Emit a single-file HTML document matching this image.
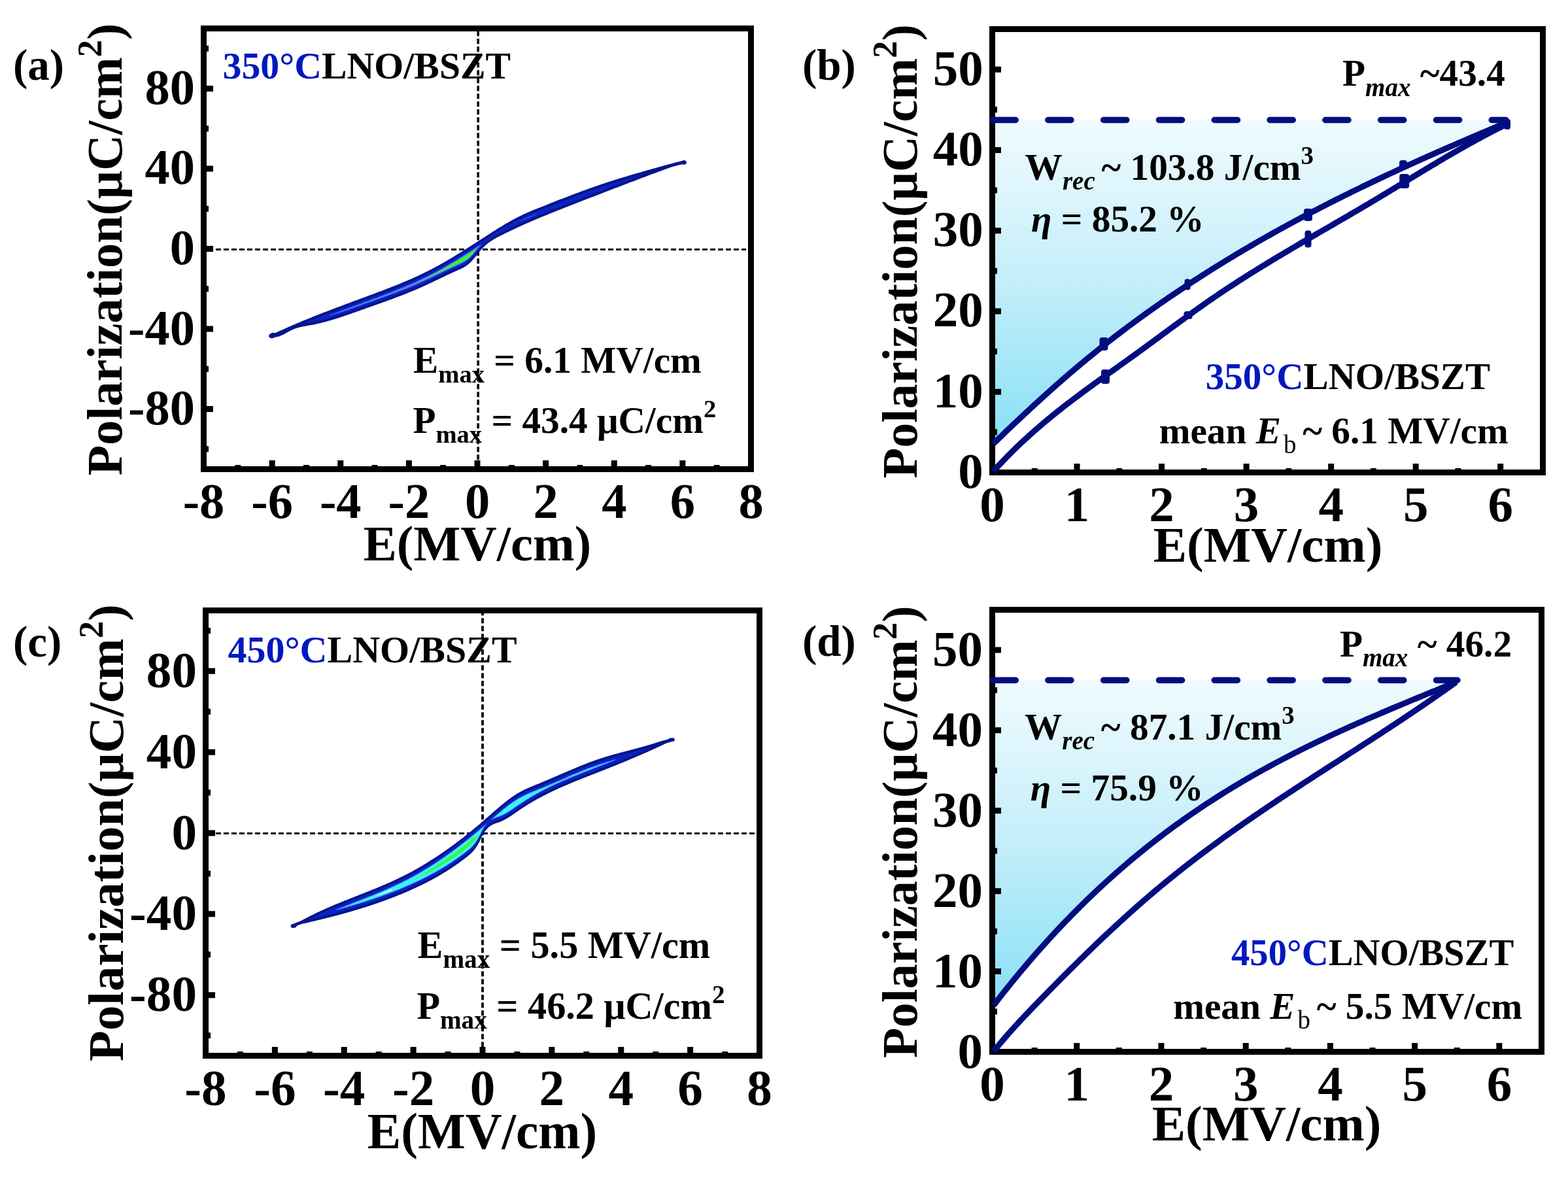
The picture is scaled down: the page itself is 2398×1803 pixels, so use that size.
<!DOCTYPE html><html><head><meta charset="utf-8"><title>P-E loops</title><style>html,body{margin:0;padding:0;background:#fff;overflow:hidden}svg{display:block}</style></head><body><svg xmlns="http://www.w3.org/2000/svg" width="2398" height="1803" viewBox="0 0 2398 1803" font-family="'Liberation Serif','Times New Roman',serif" font-weight="bold">
<defs><linearGradient id="gb" x1="0" y1="0" x2="0" y2="1"><stop offset="0" stop-color="#f0fbfe"/><stop offset="0.5" stop-color="#c4eefa"/><stop offset="1" stop-color="#88e0f6"/></linearGradient><linearGradient id="gd" x1="0" y1="0" x2="0" y2="1"><stop offset="0" stop-color="#f0fbfe"/><stop offset="0.5" stop-color="#c4eefa"/><stop offset="1" stop-color="#88e0f6"/></linearGradient></defs>
<rect width="100%" height="100%" fill="#fff"/>
<rect x="311.5" y="43.5" width="837" height="674" fill="none" stroke="#000" stroke-width="9"/>
<path d="M330 381.5H1141" stroke="#000" stroke-width="3" stroke-dasharray="8 4"/>
<path d="M731.2 47.2V713" stroke="#000" stroke-width="3.6" stroke-dasharray="8 4"/>
<path d="M412 510.9 L413.27 510.92 L414.55 510.88 L415.82 510.78 L417.09 510.62 L418.37 510.4 L419.64 509.87 L420.91 509.28 L422.19 508.69 L423.46 508.09 L424.74 507.51 L426.01 506.92 L427.28 506.34 L428.56 505.76 L429.83 505.18 L431.1 504.6 L432.38 504.02 L433.65 503.45 L434.92 502.88 L436.2 502.31 L437.47 501.75 L438.74 501.18 L440.02 500.62 L441.29 500.06 L442.57 499.51 L443.84 498.95 L445.11 498.4 L446.39 497.84 L447.66 497.29 L448.93 496.75 L450.21 496.2 L451.48 495.66 L452.75 495.12 L454.03 494.57 L455.3 494.04 L456.57 493.5 L457.85 492.96 L459.12 492.43 L460.39 491.9 L461.67 491.37 L462.94 490.84 L464.22 490.31 L465.49 489.79 L466.76 489.27 L468.04 488.74 L469.31 488.22 L470.58 487.71 L471.86 487.19 L473.13 486.67 L474.4 486.16 L475.68 485.64 L476.95 485.13 L478.22 484.62 L479.5 484.11 L480.77 483.61 L482.05 483.1 L483.32 482.6 L484.59 482.09 L485.87 481.59 L487.14 481.09 L488.41 480.59 L489.69 480.09 L490.96 479.59 L492.23 479.09 L493.51 478.6 L494.78 478.1 L496.05 477.61 L497.33 477.12 L498.6 476.63 L499.87 476.14 L501.15 475.65 L502.42 475.16 L503.7 474.67 L504.97 474.18 L506.24 473.7 L507.52 473.21 L508.79 472.73 L510.06 472.24 L511.34 471.76 L512.61 471.28 L513.88 470.8 L515.16 470.31 L516.43 469.83 L517.7 469.35 L518.98 468.88 L520.25 468.4 L521.53 467.92 L522.8 467.44 L524.07 466.96 L525.35 466.49 L526.62 466.01 L527.89 465.54 L529.17 465.06 L530.44 464.59 L531.71 464.11 L532.99 463.64 L534.26 463.17 L535.53 462.69 L536.81 462.22 L538.08 461.75 L539.35 461.27 L540.63 460.8 L541.9 460.33 L543.18 459.86 L544.45 459.38 L545.72 458.91 L547 458.44 L548.27 457.97 L549.54 457.5 L550.82 457.03 L552.09 456.55 L553.36 456.08 L554.64 455.61 L555.91 455.14 L557.18 454.67 L558.46 454.19 L559.73 453.72 L561.01 453.25 L562.28 452.78 L563.55 452.3 L564.83 451.83 L566.1 451.36 L567.37 450.88 L568.65 450.41 L569.92 449.93 L571.19 449.46 L572.47 448.98 L573.74 448.51 L575.01 448.03 L576.29 447.55 L577.56 447.08 L578.83 446.6 L580.11 446.12 L581.38 445.64 L582.66 445.16 L583.93 444.67 L585.2 444.19 L586.48 443.71 L587.75 443.22 L589.02 442.73 L590.3 442.24 L591.57 441.75 L592.84 441.26 L594.12 440.77 L595.39 440.27 L596.66 439.78 L597.94 439.28 L599.21 438.78 L600.48 438.28 L601.76 437.77 L603.03 437.27 L604.31 436.76 L605.58 436.25 L606.85 435.74 L608.13 435.23 L609.4 434.71 L610.67 434.19 L611.95 433.67 L613.22 433.14 L614.49 432.62 L615.77 432.09 L617.04 431.56 L618.31 431.02 L619.59 430.48 L620.86 429.94 L622.14 429.4 L623.41 428.86 L624.68 428.31 L625.96 427.75 L627.23 427.2 L628.5 426.64 L629.78 426.08 L631.05 425.51 L632.32 424.94 L633.6 424.37 L634.87 423.79 L636.14 423.21 L637.42 422.63 L638.69 422.04 L639.96 421.45 L641.24 420.86 L642.51 420.26 L643.79 419.65 L645.06 419.05 L646.33 418.44 L647.61 417.82 L648.88 417.2 L650.15 416.58 L651.43 415.95 L652.7 415.31 L653.97 414.68 L655.25 414.03 L656.52 413.39 L657.79 412.74 L659.07 412.08 L660.34 411.42 L661.62 410.75 L662.89 410.08 L664.16 409.4 L665.44 408.72 L666.71 408.04 L667.98 407.35 L669.26 406.65 L670.53 405.95 L671.8 405.25 L673.08 404.54 L674.35 403.83 L675.62 403.11 L676.9 402.39 L678.17 401.67 L679.44 400.94 L680.72 400.21 L681.99 399.47 L683.27 398.73 L684.54 397.99 L685.81 397.24 L687.09 396.49 L688.36 395.73 L689.63 394.98 L690.91 394.22 L692.18 393.45 L693.45 392.68 L694.73 391.91 L696 391.14 L697.27 390.36 L698.55 389.59 L699.82 388.8 L701.1 388.02 L702.37 387.23 L703.64 386.44 L704.92 385.65 L706.19 384.86 L707.46 384.06 L708.74 383.26 L710.01 382.46 L711.28 381.66 L712.56 380.85 L713.83 380.05 L715.1 379.24 L716.38 378.43 L717.65 377.62 L718.92 376.8 L720.2 375.99 L721.47 375.17 L722.75 374.36 L724.02 373.54 L725.29 372.72 L726.57 371.89 L727.84 371.07 L729.11 370.25 L730.39 369.42 L731.66 368.6 L732.93 367.77 L734.21 366.95 L735.48 366.12 L736.75 365.29 L738.03 364.47 L739.3 363.64 L740.58 362.81 L741.85 361.99 L743.12 361.17 L744.4 360.34 L745.67 359.52 L746.94 358.7 L748.22 357.88 L749.49 357.06 L750.76 356.25 L752.04 355.43 L753.31 354.62 L754.58 353.81 L755.86 353.01 L757.13 352.21 L758.4 351.41 L759.68 350.61 L760.95 349.82 L762.23 349.03 L763.5 348.24 L764.77 347.46 L766.05 346.68 L767.32 345.91 L768.59 345.14 L769.87 344.38 L771.14 343.62 L772.41 342.86 L773.69 342.11 L774.96 341.37 L776.23 340.63 L777.51 339.9 L778.78 339.18 L780.06 338.46 L781.33 337.74 L782.6 337.04 L783.88 336.34 L785.15 335.64 L786.42 334.96 L787.7 334.28 L788.97 333.61 L790.24 332.95 L791.52 332.29 L792.79 331.64 L794.06 331 L795.34 330.37 L796.61 329.75 L797.88 329.14 L799.16 328.53 L800.43 327.94 L801.71 327.35 L802.98 326.77 L804.25 326.19 L805.53 325.63 L806.8 325.07 L808.07 324.51 L809.35 323.96 L810.62 323.42 L811.89 322.88 L813.17 322.35 L814.44 321.82 L815.71 321.29 L816.99 320.77 L818.26 320.25 L819.54 319.73 L820.81 319.22 L822.08 318.71 L823.36 318.2 L824.63 317.69 L825.9 317.18 L827.18 316.68 L828.45 316.17 L829.72 315.66 L831 315.16 L832.27 314.65 L833.54 314.15 L834.82 313.64 L836.09 313.13 L837.36 312.63 L838.64 312.13 L839.91 311.62 L841.19 311.12 L842.46 310.61 L843.73 310.11 L845.01 309.61 L846.28 309.11 L847.55 308.61 L848.83 308.11 L850.1 307.61 L851.37 307.11 L852.65 306.61 L853.92 306.11 L855.19 305.61 L856.47 305.12 L857.74 304.62 L859.02 304.13 L860.29 303.63 L861.56 303.14 L862.84 302.65 L864.11 302.15 L865.38 301.66 L866.66 301.17 L867.93 300.68 L869.2 300.2 L870.48 299.71 L871.75 299.22 L873.02 298.74 L874.3 298.25 L875.57 297.77 L876.84 297.29 L878.12 296.81 L879.39 296.33 L880.67 295.85 L881.94 295.37 L883.21 294.9 L884.49 294.42 L885.76 293.95 L887.03 293.48 L888.31 293 L889.58 292.54 L890.85 292.07 L892.13 291.6 L893.4 291.14 L894.67 290.67 L895.95 290.21 L897.22 289.75 L898.49 289.29 L899.77 288.83 L901.04 288.37 L902.32 287.92 L903.59 287.47 L904.86 287.02 L906.14 286.57 L907.41 286.12 L908.68 285.67 L909.96 285.23 L911.23 284.78 L912.5 284.34 L913.78 283.9 L915.05 283.47 L916.32 283.03 L917.6 282.6 L918.87 282.17 L920.15 281.74 L921.42 281.31 L922.69 280.88 L923.97 280.46 L925.24 280.04 L926.51 279.62 L927.79 279.2 L929.06 278.78 L930.33 278.37 L931.61 277.95 L932.88 277.54 L934.15 277.13 L935.43 276.72 L936.7 276.32 L937.97 275.91 L939.25 275.51 L940.52 275.11 L941.8 274.71 L943.07 274.31 L944.34 273.91 L945.62 273.52 L946.89 273.12 L948.16 272.73 L949.44 272.34 L950.71 271.95 L951.98 271.56 L953.26 271.17 L954.53 270.78 L955.8 270.4 L957.08 270.01 L958.35 269.63 L959.63 269.25 L960.9 268.87 L962.17 268.49 L963.45 268.11 L964.72 267.74 L965.99 267.36 L967.27 266.98 L968.54 266.61 L969.81 266.24 L971.09 265.86 L972.36 265.49 L973.63 265.12 L974.91 264.75 L976.18 264.38 L977.45 264.02 L978.73 263.65 L980 263.28 L981.28 262.92 L982.55 262.55 L983.82 262.19 L985.1 261.82 L986.37 261.46 L987.64 261.1 L988.92 260.73 L990.19 260.37 L991.46 260.01 L992.74 259.65 L994.01 259.29 L995.28 258.93 L996.56 258.57 L997.83 258.21 L999.11 257.85 L1000.38 257.49 L1001.65 257.14 L1002.93 256.78 L1004.2 256.42 L1005.47 256.06 L1006.75 255.7 L1008.02 255.35 L1009.29 254.99 L1010.57 254.63 L1011.84 254.28 L1013.11 253.92 L1014.39 253.56 L1015.66 253.21 L1016.93 252.86 L1018.21 252.51 L1019.48 252.17 L1020.76 251.84 L1022.03 251.51 L1023.3 251.19 L1024.58 250.88 L1025.85 250.57 L1027.12 250.21 L1028.4 249.84 L1029.67 249.48 L1030.94 249.12 L1032.22 248.77 L1033.49 248.43 L1034.76 248.1 L1036.04 247.78 L1037.31 247.47 L1038.59 247.17 L1039.86 246.88 L1041.13 246.6 L1042.41 246.33 L1043.68 246.08 L1044.95 245.84 L1046.23 245.61 L1047.5 245.4 L1047.5 250.6 L1046.23 250.81 L1044.95 251.04 L1043.68 251.28 L1042.41 251.53 L1041.13 251.8 L1039.86 252.08 L1038.59 252.37 L1037.31 252.67 L1036.04 252.98 L1034.76 253.3 L1033.49 253.63 L1032.22 253.97 L1030.94 254.32 L1029.67 254.68 L1028.4 255.04 L1027.12 255.41 L1025.85 255.8 L1024.58 256.26 L1023.3 256.73 L1022.03 257.19 L1020.76 257.66 L1019.48 258.12 L1018.21 258.59 L1016.93 259.06 L1015.66 259.52 L1014.39 259.99 L1013.11 260.46 L1011.84 260.93 L1010.57 261.4 L1009.29 261.87 L1008.02 262.34 L1006.75 262.81 L1005.47 263.28 L1004.2 263.76 L1002.93 264.23 L1001.65 264.7 L1000.38 265.17 L999.11 265.65 L997.83 266.12 L996.56 266.6 L995.28 267.07 L994.01 267.55 L992.74 268.03 L991.46 268.5 L990.19 268.98 L988.92 269.46 L987.64 269.93 L986.37 270.41 L985.1 270.89 L983.82 271.37 L982.55 271.85 L981.28 272.33 L980 272.81 L978.73 273.29 L977.45 273.77 L976.18 274.25 L974.91 274.73 L973.63 275.22 L972.36 275.7 L971.09 276.18 L969.81 276.66 L968.54 277.15 L967.27 277.63 L965.99 278.12 L964.72 278.6 L963.45 279.08 L962.17 279.57 L960.9 280.05 L959.63 280.54 L958.35 281.03 L957.08 281.51 L955.8 282 L954.53 282.48 L953.26 282.97 L951.98 283.46 L950.71 283.95 L949.44 284.43 L948.16 284.92 L946.89 285.41 L945.62 285.9 L944.34 286.39 L943.07 286.88 L941.8 287.37 L940.52 287.85 L939.25 288.34 L937.97 288.83 L936.7 289.32 L935.43 289.81 L934.15 290.3 L932.88 290.79 L931.61 291.29 L930.33 291.78 L929.06 292.27 L927.79 292.76 L926.51 293.25 L925.24 293.74 L923.97 294.23 L922.69 294.72 L921.42 295.22 L920.15 295.71 L918.87 296.2 L917.6 296.69 L916.32 297.19 L915.05 297.68 L913.78 298.17 L912.5 298.66 L911.23 299.16 L909.96 299.65 L908.68 300.14 L907.41 300.64 L906.14 301.13 L904.86 301.62 L903.59 302.12 L902.32 302.61 L901.04 303.1 L899.77 303.6 L898.49 304.09 L897.22 304.58 L895.95 305.08 L894.67 305.57 L893.4 306.06 L892.13 306.56 L890.85 307.05 L889.58 307.54 L888.31 308.04 L887.03 308.53 L885.76 309.03 L884.49 309.52 L883.21 310.01 L881.94 310.51 L880.67 311 L879.39 311.5 L878.12 311.99 L876.84 312.49 L875.57 312.98 L874.3 313.48 L873.02 313.97 L871.75 314.47 L870.48 314.97 L869.2 315.46 L867.93 315.96 L866.66 316.46 L865.38 316.96 L864.11 317.46 L862.84 317.96 L861.56 318.46 L860.29 318.96 L859.02 319.46 L857.74 319.97 L856.47 320.47 L855.19 320.97 L853.92 321.48 L852.65 321.99 L851.37 322.49 L850.1 323 L848.83 323.51 L847.55 324.02 L846.28 324.53 L845.01 325.04 L843.73 325.56 L842.46 326.07 L841.19 326.58 L839.91 327.1 L838.64 327.62 L837.36 328.14 L836.09 328.66 L834.82 329.18 L833.54 329.7 L832.27 330.23 L831 330.75 L829.72 331.28 L828.45 331.81 L827.18 332.34 L825.9 332.87 L824.63 333.4 L823.36 333.94 L822.08 334.47 L820.81 335.01 L819.54 335.55 L818.26 336.09 L816.99 336.64 L815.71 337.18 L814.44 337.73 L813.17 338.28 L811.89 338.83 L810.62 339.38 L809.35 339.93 L808.07 340.49 L806.8 341.05 L805.53 341.61 L804.25 342.17 L802.98 342.74 L801.71 343.3 L800.43 343.87 L799.16 344.44 L797.88 345.02 L796.61 345.59 L795.34 346.17 L794.06 346.75 L792.79 347.33 L791.52 347.92 L790.24 348.5 L788.97 349.09 L787.7 349.68 L786.42 350.28 L785.15 350.88 L783.88 351.48 L782.6 352.08 L781.33 352.68 L780.06 353.29 L778.78 353.9 L777.51 354.52 L776.23 355.13 L774.96 355.75 L773.69 356.37 L772.41 357 L771.14 357.63 L769.87 358.26 L768.59 358.89 L767.32 359.53 L766.05 360.17 L764.77 360.81 L763.5 361.46 L762.23 362.12 L760.95 362.79 L759.68 363.47 L758.4 364.17 L757.13 364.88 L755.86 365.62 L754.58 366.38 L753.31 367.16 L752.04 367.98 L750.76 368.82 L749.49 369.7 L748.22 370.62 L746.94 371.57 L745.67 372.56 L744.4 373.6 L743.12 374.68 L741.85 375.81 L740.58 376.99 L739.3 378.23 L738.03 379.52 L736.75 380.87 L735.48 382.28 L734.21 383.75 L732.93 385.28 L731.66 386.84 L730.39 388.43 L729.11 390.03 L727.84 391.63 L726.57 393.22 L725.29 394.79 L724.02 396.32 L722.75 397.8 L721.47 399.22 L720.2 400.56 L718.92 401.81 L717.65 402.97 L716.38 404.06 L715.1 405.06 L713.83 405.99 L712.56 406.86 L711.28 407.67 L710.01 408.43 L708.74 409.14 L707.46 409.81 L706.19 410.45 L704.92 411.06 L703.64 411.65 L702.37 412.23 L701.1 412.79 L699.82 413.35 L698.55 413.92 L697.27 414.49 L696 415.06 L694.73 415.64 L693.45 416.22 L692.18 416.81 L690.91 417.39 L689.63 417.98 L688.36 418.57 L687.09 419.17 L685.81 419.77 L684.54 420.36 L683.27 420.97 L681.99 421.57 L680.72 422.17 L679.44 422.78 L678.17 423.39 L676.9 423.99 L675.62 424.6 L674.35 425.21 L673.08 425.82 L671.8 426.43 L670.53 427.04 L669.26 427.65 L667.98 428.26 L666.71 428.87 L665.44 429.47 L664.16 430.08 L662.89 430.69 L661.62 431.29 L660.34 431.89 L659.07 432.5 L657.79 433.1 L656.52 433.69 L655.25 434.29 L653.97 434.88 L652.7 435.47 L651.43 436.06 L650.15 436.64 L648.88 437.22 L647.61 437.8 L646.33 438.38 L645.06 438.95 L643.79 439.51 L642.51 440.08 L641.24 440.64 L639.96 441.19 L638.69 441.74 L637.42 442.29 L636.14 442.84 L634.87 443.38 L633.6 443.92 L632.32 444.45 L631.05 444.99 L629.78 445.51 L628.5 446.04 L627.23 446.56 L625.96 447.08 L624.68 447.6 L623.41 448.12 L622.14 448.63 L620.86 449.14 L619.59 449.64 L618.31 450.15 L617.04 450.65 L615.77 451.15 L614.49 451.64 L613.22 452.14 L611.95 452.63 L610.67 453.12 L609.4 453.61 L608.13 454.09 L606.85 454.58 L605.58 455.06 L604.31 455.54 L603.03 456.01 L601.76 456.49 L600.48 456.96 L599.21 457.44 L597.94 457.91 L596.66 458.38 L595.39 458.84 L594.12 459.31 L592.84 459.78 L591.57 460.24 L590.3 460.7 L589.02 461.16 L587.75 461.62 L586.48 462.08 L585.2 462.54 L583.93 463 L582.66 463.45 L581.38 463.91 L580.11 464.36 L578.83 464.81 L577.56 465.27 L576.29 465.72 L575.01 466.17 L573.74 466.62 L572.47 467.07 L571.19 467.52 L569.92 467.98 L568.65 468.43 L567.37 468.87 L566.1 469.32 L564.83 469.77 L563.55 470.22 L562.28 470.67 L561.01 471.12 L559.73 471.57 L558.46 472.02 L557.18 472.47 L555.91 472.92 L554.64 473.38 L553.36 473.83 L552.09 474.28 L550.82 474.73 L549.54 475.19 L548.27 475.64 L547 476.09 L545.72 476.54 L544.45 477 L543.18 477.45 L541.9 477.9 L540.63 478.35 L539.35 478.8 L538.08 479.25 L536.81 479.69 L535.53 480.14 L534.26 480.59 L532.99 481.03 L531.71 481.47 L530.44 481.91 L529.17 482.35 L527.89 482.78 L526.62 483.22 L525.35 483.65 L524.07 484.07 L522.8 484.5 L521.53 484.92 L520.25 485.34 L518.98 485.76 L517.7 486.17 L516.43 486.58 L515.16 486.99 L513.88 487.39 L512.61 487.79 L511.34 488.19 L510.06 488.58 L508.79 488.97 L507.52 489.35 L506.24 489.73 L504.97 490.1 L503.7 490.47 L502.42 490.84 L501.15 491.2 L499.87 491.55 L498.6 491.9 L497.33 492.25 L496.05 492.58 L494.78 492.92 L493.51 493.24 L492.23 493.57 L490.96 493.88 L489.69 494.19 L488.41 494.49 L487.14 494.79 L485.87 495.08 L484.59 495.36 L483.32 495.64 L482.05 495.9 L480.77 496.17 L479.5 496.42 L478.22 496.67 L476.95 496.91 L475.68 497.14 L474.4 497.37 L473.13 497.59 L471.86 497.81 L470.58 498.03 L469.31 498.25 L468.04 498.47 L466.76 498.7 L465.49 498.94 L464.22 499.19 L462.94 499.44 L461.67 499.71 L460.39 500 L459.12 500.3 L457.85 500.62 L456.57 500.96 L455.3 501.32 L454.03 501.71 L452.75 502.12 L451.48 502.56 L450.21 503.03 L448.93 503.53 L447.66 504.07 L446.39 504.64 L445.11 505.25 L443.84 505.89 L442.57 506.55 L441.29 507.24 L440.02 507.93 L438.74 508.64 L437.47 509.34 L436.2 510.04 L434.92 510.73 L433.65 511.4 L432.38 512.04 L431.1 512.65 L429.83 513.22 L428.56 513.74 L427.28 514.21 L426.01 514.63 L424.74 514.98 L423.46 515.26 L422.19 515.46 L420.91 515.58 L419.64 515.6 L418.37 515.6 L417.09 515.82 L415.82 515.98 L414.55 516.08 L413.27 516.12 L412 516.1Z" fill="#06168a"/>
<path d="M466.76 493.57 L468.04 493.04 L469.31 492.52 L470.58 492.01 L471.86 491.49 L473.13 490.97 L474.4 490.46 L475.68 489.94 L476.95 489.43 L478.22 488.92 L479.5 488.41 L480.77 487.91 L482.05 487.4 L483.32 486.9 L484.59 486.39 L485.87 485.89 L487.14 485.39 L488.41 484.89 L489.69 484.39 L490.96 483.89 L492.23 483.39 L493.51 482.9 L494.78 482.4 L496.05 481.91 L497.33 481.42 L498.6 480.93 L499.87 480.44 L501.15 479.95 L502.42 479.46 L503.7 478.97 L504.97 478.48 L506.24 478 L507.52 477.51 L508.79 477.03 L510.06 476.54 L511.34 476.06 L512.61 475.58 L513.88 475.1 L515.16 474.61 L516.43 474.13 L517.7 473.65 L518.98 473.18 L520.25 472.7 L521.53 472.22 L522.8 471.74 L524.07 471.26 L525.35 470.79 L526.62 470.31 L527.89 469.84 L529.17 469.36 L530.44 468.89 L531.71 468.41 L532.99 467.94 L534.26 467.47 L535.53 466.99 L536.81 466.52 L538.08 466.05 L539.35 465.57 L540.63 465.1 L541.9 464.63 L543.18 464.16 L544.45 463.68 L545.72 463.21 L547 462.74 L548.27 462.27 L549.54 461.8 L550.82 461.33 L552.09 460.85 L553.36 460.38 L554.64 459.91 L555.91 459.44 L557.18 458.97 L558.46 458.49 L559.73 458.02 L561.01 457.55 L562.28 457.08 L563.55 456.6 L564.83 456.13 L566.1 455.66 L567.37 455.18 L568.65 454.71 L569.92 454.23 L571.19 453.76 L572.47 453.28 L573.74 452.81 L575.01 452.33 L576.29 451.85 L577.56 451.38 L578.83 450.9 L580.11 450.42 L581.38 449.94 L582.66 449.46 L583.93 448.97 L585.2 448.49 L586.48 448.01 L587.75 447.52 L589.02 447.03 L590.3 446.54 L591.57 446.05 L592.84 445.56 L594.12 445.07 L595.39 444.57 L596.66 444.08 L597.94 443.58 L599.21 443.08 L600.48 442.58 L601.76 442.07 L603.03 441.57 L604.31 441.06 L605.58 440.55 L606.85 440.04 L608.13 439.53 L609.4 439.01 L610.67 438.49 L611.95 437.97 L613.22 437.44 L614.49 436.92 L615.77 436.39 L617.04 435.86 L618.31 435.32 L619.59 434.78 L620.86 434.24 L622.14 433.7 L623.41 433.16 L624.68 432.61 L625.96 432.05 L627.23 431.5 L628.5 430.94 L629.78 430.38 L631.05 429.81 L632.32 429.24 L633.6 428.67 L634.87 428.09 L636.14 427.51 L637.42 426.93 L638.69 426.34 L639.96 425.75 L641.24 425.16 L642.51 424.56 L643.79 423.95 L645.06 423.35 L646.33 422.74 L647.61 422.12 L648.88 421.5 L650.15 420.88 L651.43 420.25 L652.7 419.61 L653.97 418.98 L655.25 418.33 L656.52 417.69 L657.79 417.04 L659.07 416.38 L660.34 415.72 L661.62 415.05 L662.89 414.38 L664.16 413.7 L665.44 413.02 L666.71 412.34 L667.98 411.65 L669.26 410.95 L670.53 410.25 L671.8 409.55 L673.08 408.84 L674.35 408.13 L675.62 407.41 L676.9 406.69 L678.17 405.97 L679.44 405.24 L680.72 404.51 L681.99 403.77 L683.27 403.03 L684.54 402.29 L685.81 401.54 L687.09 400.79 L688.36 400.03 L689.63 399.28 L690.91 398.52 L692.18 397.75 L693.45 396.98 L694.73 396.21 L696 395.44 L697.27 394.66 L698.55 393.89 L699.82 393.1 L701.1 392.32 L702.37 391.53 L703.64 390.74 L704.92 389.95 L706.19 389.16 L707.46 388.36 L708.74 387.56 L710.01 386.76 L711.28 385.96 L712.56 385.15 L713.83 384.35 L715.1 383.54 L716.38 382.73 L717.65 381.92 L718.92 381.1 L720.2 380.29 L721.47 379.47 L722.75 378.66 L724.02 377.84 L725.29 377.02 L726.57 376.19 L727.84 375.37 L729.11 374.55 L730.39 373.72 L731.66 372.9 L732.93 372.07 L734.21 371.25 L735.48 370.42 L736.75 369.59 L738.03 368.77 L739.3 367.94 L740.58 367.11 L741.85 366.29 L743.12 365.47 L744.4 364.64 L745.67 363.82 L746.94 363 L748.22 362.18 L749.49 361.36 L750.76 360.55 L752.04 359.73 L753.31 358.92 L754.58 358.11 L755.86 357.31 L757.13 356.51 L758.4 355.71 L759.68 354.91 L760.95 354.12 L762.23 353.33 L763.5 352.54 L764.77 351.76 L766.05 350.98 L767.32 350.21 L768.59 349.44 L769.87 348.68 L771.14 347.92 L772.41 347.16 L773.69 346.41 L774.96 345.67 L776.23 344.93 L777.51 344.2 L778.78 343.48 L780.06 342.76 L781.33 342.04 L782.6 341.34 L783.88 340.64 L785.15 339.94 L786.42 339.26 L787.7 338.58 L788.97 337.91 L790.24 337.25 L791.52 336.59 L792.79 335.94 L794.06 335.3 L795.34 334.67 L796.61 334.05 L797.88 333.44 L799.16 332.83 L800.43 332.24 L801.71 331.65 L802.98 331.07 L804.25 330.49 L805.53 329.93 L806.8 329.37 L808.07 328.81 L809.35 328.26 L810.62 327.72 L811.89 327.18 L813.17 326.65 L814.44 326.12 L815.71 325.59 L816.99 325.07 L818.26 324.55 L819.54 324.03 L820.81 323.52 L822.08 323.01 L823.36 322.5 L824.63 321.99 L825.9 321.48 L827.18 320.98 L828.45 320.47 L829.72 319.96 L831 319.46 L832.27 318.95 L833.54 318.45 L834.82 317.94 L836.09 317.43 L837.36 316.93 L838.64 316.43 L839.91 315.92 L841.19 315.42 L842.46 314.91 L843.73 314.41 L845.01 313.91 L846.28 313.41 L847.55 312.91 L848.83 312.41 L850.1 311.91 L851.37 311.41 L852.65 310.91 L853.92 310.41 L855.19 309.91 L856.47 309.42 L857.74 308.92 L859.02 308.43 L860.29 307.93 L861.56 307.44 L862.84 306.95 L864.11 306.45 L865.38 305.96 L866.66 305.47 L867.93 304.98 L869.2 304.5 L870.48 304.01 L871.75 303.52 L873.02 303.04 L874.3 302.55 L875.57 302.07 L876.84 301.59 L878.12 301.11 L879.39 300.63 L880.67 300.15 L881.94 299.67 L883.21 299.2 L884.49 298.72 L885.76 298.25 L887.03 297.78 L888.31 297.3 L889.58 296.84 L890.85 296.37 L892.13 295.9 L893.4 295.44 L894.67 294.97 L895.95 294.51 L897.22 294.05 L898.49 293.59 L899.77 293.13 L901.04 292.67 L902.32 292.22 L903.59 291.77 L904.86 291.32 L906.14 290.87 L907.41 290.42 L908.68 289.97 L909.96 289.53 L911.23 289.08 L912.5 288.64 L913.78 288.2 L915.05 287.77 L916.32 287.33 L917.6 286.9 L918.87 286.47 L920.15 286.04 L921.42 285.61 L922.69 285.18 L923.97 284.76 L925.24 284.34 L926.51 283.92 L927.79 283.5 L929.06 283.08 L930.33 282.67 L931.61 282.25 L932.88 281.84 L934.15 281.43 L935.43 281.02 L936.7 280.62 L937.97 280.21 L939.25 279.81 L940.52 279.41 L941.8 279.01 L943.07 278.61 L944.34 278.21 L945.62 277.82 L946.89 277.42 L948.16 277.03 L949.44 276.64 L950.71 276.25 L951.98 275.86 L953.26 275.47 L954.53 275.08 L955.8 274.7 L957.08 274.31 L958.35 273.93 L959.63 273.55 L960.9 273.17 L962.17 272.79 L963.45 272.41 L964.72 272.04 L965.99 271.66 L967.27 271.28 L968.54 270.91 L969.81 270.54 L971.09 270.16 L972.36 269.79 L973.63 269.42 L974.91 269.05 L976.18 268.68 L977.45 268.32 L978.73 267.95 L980 267.58 L981.28 267.22 L982.55 266.85 L982.55 267.55 L981.28 268.03 L980 268.51 L978.73 268.99 L977.45 269.47 L976.18 269.95 L974.91 270.43 L973.63 270.92 L972.36 271.4 L971.09 271.88 L969.81 272.36 L968.54 272.85 L967.27 273.33 L965.99 273.82 L964.72 274.3 L963.45 274.78 L962.17 275.27 L960.9 275.75 L959.63 276.24 L958.35 276.73 L957.08 277.21 L955.8 277.7 L954.53 278.18 L953.26 278.67 L951.98 279.16 L950.71 279.65 L949.44 280.13 L948.16 280.62 L946.89 281.11 L945.62 281.6 L944.34 282.09 L943.07 282.58 L941.8 283.07 L940.52 283.55 L939.25 284.04 L937.97 284.53 L936.7 285.02 L935.43 285.51 L934.15 286 L932.88 286.49 L931.61 286.99 L930.33 287.48 L929.06 287.97 L927.79 288.46 L926.51 288.95 L925.24 289.44 L923.97 289.93 L922.69 290.42 L921.42 290.92 L920.15 291.41 L918.87 291.9 L917.6 292.39 L916.32 292.89 L915.05 293.38 L913.78 293.87 L912.5 294.36 L911.23 294.86 L909.96 295.35 L908.68 295.84 L907.41 296.34 L906.14 296.83 L904.86 297.32 L903.59 297.82 L902.32 298.31 L901.04 298.8 L899.77 299.3 L898.49 299.79 L897.22 300.28 L895.95 300.78 L894.67 301.27 L893.4 301.76 L892.13 302.26 L890.85 302.75 L889.58 303.24 L888.31 303.74 L887.03 304.23 L885.76 304.73 L884.49 305.22 L883.21 305.71 L881.94 306.21 L880.67 306.7 L879.39 307.2 L878.12 307.69 L876.84 308.19 L875.57 308.68 L874.3 309.18 L873.02 309.67 L871.75 310.17 L870.48 310.67 L869.2 311.16 L867.93 311.66 L866.66 312.16 L865.38 312.66 L864.11 313.16 L862.84 313.66 L861.56 314.16 L860.29 314.66 L859.02 315.16 L857.74 315.67 L856.47 316.17 L855.19 316.67 L853.92 317.18 L852.65 317.69 L851.37 318.19 L850.1 318.7 L848.83 319.21 L847.55 319.72 L846.28 320.23 L845.01 320.74 L843.73 321.26 L842.46 321.77 L841.19 322.28 L839.91 322.8 L838.64 323.32 L837.36 323.84 L836.09 324.36 L834.82 324.88 L833.54 325.4 L832.27 325.93 L831 326.45 L829.72 326.98 L828.45 327.51 L827.18 328.04 L825.9 328.57 L824.63 329.1 L823.36 329.64 L822.08 330.17 L820.81 330.71 L819.54 331.25 L818.26 331.79 L816.99 332.34 L815.71 332.88 L814.44 333.43 L813.17 333.98 L811.89 334.53 L810.62 335.08 L809.35 335.63 L808.07 336.19 L806.8 336.75 L805.53 337.31 L804.25 337.87 L802.98 338.44 L801.71 339 L800.43 339.57 L799.16 340.14 L797.88 340.72 L796.61 341.29 L795.34 341.87 L794.06 342.45 L792.79 343.03 L791.52 343.62 L790.24 344.2 L788.97 344.79 L787.7 345.38 L786.42 345.98 L785.15 346.58 L783.88 347.18 L782.6 347.78 L781.33 348.38 L780.06 348.99 L778.78 349.6 L777.51 350.22 L776.23 350.83 L774.96 351.45 L773.69 352.07 L772.41 352.7 L771.14 353.33 L769.87 353.96 L768.59 354.59 L767.32 355.23 L766.05 355.87 L764.77 356.51 L763.5 357.16 L762.23 357.82 L760.95 358.49 L759.68 359.17 L758.4 359.87 L757.13 360.58 L755.86 361.32 L754.58 362.08 L753.31 362.86 L752.04 363.68 L750.76 364.52 L749.49 365.4 L748.22 366.32 L746.94 367.27 L745.67 368.26 L744.4 369.3 L743.12 370.38 L741.85 371.51 L740.58 372.69 L739.3 373.93 L738.03 375.22 L736.75 376.57 L735.48 377.98 L734.21 379.45 L732.93 380.98 L731.66 382.54 L730.39 384.13 L729.11 385.73 L727.84 387.33 L726.57 388.92 L725.29 390.49 L724.02 392.02 L722.75 393.5 L721.47 394.92 L720.2 396.26 L718.92 397.51 L717.65 398.67 L716.38 399.76 L715.1 400.76 L713.83 401.69 L712.56 402.56 L711.28 403.37 L710.01 404.13 L708.74 404.84 L707.46 405.51 L706.19 406.15 L704.92 406.76 L703.64 407.35 L702.37 407.93 L701.1 408.49 L699.82 409.05 L698.55 409.62 L697.27 410.19 L696 410.76 L694.73 411.34 L693.45 411.92 L692.18 412.51 L690.91 413.09 L689.63 413.68 L688.36 414.27 L687.09 414.87 L685.81 415.47 L684.54 416.06 L683.27 416.67 L681.99 417.27 L680.72 417.87 L679.44 418.48 L678.17 419.09 L676.9 419.69 L675.62 420.3 L674.35 420.91 L673.08 421.52 L671.8 422.13 L670.53 422.74 L669.26 423.35 L667.98 423.96 L666.71 424.57 L665.44 425.17 L664.16 425.78 L662.89 426.39 L661.62 426.99 L660.34 427.59 L659.07 428.2 L657.79 428.8 L656.52 429.39 L655.25 429.99 L653.97 430.58 L652.7 431.17 L651.43 431.76 L650.15 432.34 L648.88 432.92 L647.61 433.5 L646.33 434.08 L645.06 434.65 L643.79 435.21 L642.51 435.78 L641.24 436.34 L639.96 436.89 L638.69 437.44 L637.42 437.99 L636.14 438.54 L634.87 439.08 L633.6 439.62 L632.32 440.15 L631.05 440.69 L629.78 441.21 L628.5 441.74 L627.23 442.26 L625.96 442.78 L624.68 443.3 L623.41 443.82 L622.14 444.33 L620.86 444.84 L619.59 445.34 L618.31 445.85 L617.04 446.35 L615.77 446.85 L614.49 447.34 L613.22 447.84 L611.95 448.33 L610.67 448.82 L609.4 449.31 L608.13 449.79 L606.85 450.28 L605.58 450.76 L604.31 451.24 L603.03 451.71 L601.76 452.19 L600.48 452.66 L599.21 453.14 L597.94 453.61 L596.66 454.08 L595.39 454.54 L594.12 455.01 L592.84 455.48 L591.57 455.94 L590.3 456.4 L589.02 456.86 L587.75 457.32 L586.48 457.78 L585.2 458.24 L583.93 458.7 L582.66 459.15 L581.38 459.61 L580.11 460.06 L578.83 460.51 L577.56 460.97 L576.29 461.42 L575.01 461.87 L573.74 462.32 L572.47 462.77 L571.19 463.22 L569.92 463.68 L568.65 464.13 L567.37 464.57 L566.1 465.02 L564.83 465.47 L563.55 465.92 L562.28 466.37 L561.01 466.82 L559.73 467.27 L558.46 467.72 L557.18 468.17 L555.91 468.62 L554.64 469.08 L553.36 469.53 L552.09 469.98 L550.82 470.43 L549.54 470.89 L548.27 471.34 L547 471.79 L545.72 472.24 L544.45 472.7 L543.18 473.15 L541.9 473.6 L540.63 474.05 L539.35 474.5 L538.08 474.95 L536.81 475.39 L535.53 475.84 L534.26 476.29 L532.99 476.73 L531.71 477.17 L530.44 477.61 L529.17 478.05 L527.89 478.48 L526.62 478.92 L525.35 479.35 L524.07 479.77 L522.8 480.2 L521.53 480.62 L520.25 481.04 L518.98 481.46 L517.7 481.87 L516.43 482.28 L515.16 482.69 L513.88 483.09 L512.61 483.49 L511.34 483.89 L510.06 484.28 L508.79 484.67 L507.52 485.05 L506.24 485.43 L504.97 485.8 L503.7 486.17 L502.42 486.54 L501.15 486.9 L499.87 487.25 L498.6 487.6 L497.33 487.95 L496.05 488.28 L494.78 488.62 L493.51 488.94 L492.23 489.27 L490.96 489.58 L489.69 489.89 L488.41 490.19 L487.14 490.49 L485.87 490.78 L484.59 491.06 L483.32 491.34 L482.05 491.6 L480.77 491.87 L479.5 492.12 L478.22 492.37 L476.95 492.61 L475.68 492.84 L474.4 493.07 L473.13 493.29 L471.86 493.51 L470.58 493.73 L469.31 493.95 L468.04 494.17 L466.76 494.4Z" fill="#0a22c6"/>
<path d="M503.7 482.27 L504.97 481.78 L506.24 481.3 L507.52 480.81 L508.79 480.33 L510.06 479.84 L511.34 479.36 L512.61 478.88 L513.88 478.4 L515.16 477.91 L516.43 477.43 L517.7 476.95 L518.98 476.48 L520.25 476 L521.53 475.52 L522.8 475.04 L524.07 474.56 L525.35 474.09 L526.62 473.61 L527.89 473.14 L529.17 472.66 L530.44 472.19 L531.71 471.71 L532.99 471.24 L534.26 470.77 L535.53 470.29 L536.81 469.82 L538.08 469.35 L539.35 468.87 L540.63 468.4 L541.9 467.93 L543.18 467.46 L544.45 466.98 L545.72 466.51 L547 466.04 L548.27 465.57 L549.54 465.1 L550.82 464.63 L552.09 464.15 L553.36 463.68 L554.64 463.21 L555.91 462.74 L557.18 462.27 L558.46 461.79 L559.73 461.32 L561.01 460.85 L562.28 460.38 L563.55 459.9 L564.83 459.43 L566.1 458.96 L567.37 458.48 L568.65 458.01 L569.92 457.53 L571.19 457.06 L572.47 456.58 L573.74 456.11 L575.01 455.63 L576.29 455.15 L577.56 454.68 L578.83 454.2 L580.11 453.72 L581.38 453.24 L582.66 452.76 L583.93 452.27 L585.2 451.79 L586.48 451.31 L587.75 450.82 L589.02 450.33 L590.3 449.84 L591.57 449.35 L592.84 448.86 L594.12 448.37 L595.39 447.87 L596.66 447.38 L597.94 446.88 L599.21 446.38 L600.48 445.88 L601.76 445.37 L603.03 444.87 L604.31 444.36 L605.58 443.85 L606.85 443.34 L608.13 442.83 L609.4 442.31 L610.67 441.79 L611.95 441.27 L613.22 440.74 L614.49 440.22 L615.77 439.69 L617.04 439.16 L618.31 438.62 L619.59 438.08 L620.86 437.54 L622.14 437 L623.41 436.46 L624.68 435.91 L625.96 435.35 L627.23 434.8 L628.5 434.24 L629.78 433.68 L631.05 433.11 L632.32 432.54 L633.6 431.97 L634.87 431.39 L636.14 430.81 L637.42 430.23 L638.69 429.64 L639.96 429.05 L641.24 428.46 L642.51 427.86 L643.79 427.25 L645.06 426.65 L646.33 426.04 L647.61 425.42 L648.88 424.8 L650.15 424.18 L651.43 423.55 L652.7 422.91 L653.97 422.28 L655.25 421.63 L656.52 420.99 L657.79 420.34 L659.07 419.68 L660.34 419.02 L661.62 418.35 L662.89 417.68 L664.16 417 L665.44 416.32 L666.71 415.64 L667.98 414.95 L669.26 414.25 L670.53 413.55 L671.8 412.85 L673.08 412.14 L674.35 411.43 L675.62 410.71 L676.9 409.99 L678.17 409.27 L679.44 408.54 L680.72 407.81 L681.99 407.07 L683.27 406.33 L684.54 405.59 L685.81 404.84 L687.09 404.09 L688.36 403.33 L689.63 402.58 L690.91 401.82 L692.18 401.05 L693.45 400.28 L694.73 399.51 L696 398.74 L697.27 397.96 L698.55 397.19 L699.82 396.4 L701.1 395.62 L702.37 394.83 L703.64 394.04 L704.92 393.25 L706.19 392.46 L707.46 391.66 L708.74 390.86 L710.01 390.06 L711.28 389.26 L712.56 388.45 L713.83 387.65 L715.1 386.84 L716.38 386.03 L717.65 385.22 L718.92 384.4 L720.2 383.59 L721.47 382.77 L722.75 381.96 L724.02 381.14 L725.29 380.32 L726.57 379.49 L727.84 378.67 L729.11 377.85 L730.39 377.02 L731.66 376.2 L732.93 375.37 L734.21 374.55 L735.48 373.72 L735.48 374.68 L734.21 376.15 L732.93 377.68 L731.66 379.24 L730.39 380.83 L729.11 382.43 L727.84 384.03 L726.57 385.62 L725.29 387.19 L724.02 388.72 L722.75 390.2 L721.47 391.62 L720.2 392.96 L718.92 394.21 L717.65 395.37 L716.38 396.46 L715.1 397.46 L713.83 398.39 L712.56 399.26 L711.28 400.07 L710.01 400.83 L708.74 401.54 L707.46 402.21 L706.19 402.85 L704.92 403.46 L703.64 404.05 L702.37 404.63 L701.1 405.19 L699.82 405.75 L698.55 406.32 L697.27 406.89 L696 407.46 L694.73 408.04 L693.45 408.62 L692.18 409.21 L690.91 409.79 L689.63 410.38 L688.36 410.97 L687.09 411.57 L685.81 412.17 L684.54 412.76 L683.27 413.37 L681.99 413.97 L680.72 414.57 L679.44 415.18 L678.17 415.79 L676.9 416.39 L675.62 417 L674.35 417.61 L673.08 418.22 L671.8 418.83 L670.53 419.44 L669.26 420.05 L667.98 420.66 L666.71 421.27 L665.44 421.87 L664.16 422.48 L662.89 423.09 L661.62 423.69 L660.34 424.29 L659.07 424.9 L657.79 425.5 L656.52 426.09 L655.25 426.69 L653.97 427.28 L652.7 427.87 L651.43 428.46 L650.15 429.04 L648.88 429.62 L647.61 430.2 L646.33 430.78 L645.06 431.35 L643.79 431.91 L642.51 432.48 L641.24 433.04 L639.96 433.59 L638.69 434.14 L637.42 434.69 L636.14 435.24 L634.87 435.78 L633.6 436.32 L632.32 436.85 L631.05 437.39 L629.78 437.91 L628.5 438.44 L627.23 438.96 L625.96 439.48 L624.68 440 L623.41 440.52 L622.14 441.03 L620.86 441.54 L619.59 442.04 L618.31 442.55 L617.04 443.05 L615.77 443.55 L614.49 444.04 L613.22 444.54 L611.95 445.03 L610.67 445.52 L609.4 446.01 L608.13 446.49 L606.85 446.98 L605.58 447.46 L604.31 447.94 L603.03 448.41 L601.76 448.89 L600.48 449.36 L599.21 449.84 L597.94 450.31 L596.66 450.78 L595.39 451.24 L594.12 451.71 L592.84 452.18 L591.57 452.64 L590.3 453.1 L589.02 453.56 L587.75 454.02 L586.48 454.48 L585.2 454.94 L583.93 455.4 L582.66 455.85 L581.38 456.31 L580.11 456.76 L578.83 457.21 L577.56 457.67 L576.29 458.12 L575.01 458.57 L573.74 459.02 L572.47 459.47 L571.19 459.92 L569.92 460.38 L568.65 460.83 L567.37 461.27 L566.1 461.72 L564.83 462.17 L563.55 462.62 L562.28 463.07 L561.01 463.52 L559.73 463.97 L558.46 464.42 L557.18 464.87 L555.91 465.32 L554.64 465.78 L553.36 466.23 L552.09 466.68 L550.82 467.13 L549.54 467.59 L548.27 468.04 L547 468.49 L545.72 468.94 L544.45 469.4 L543.18 469.85 L541.9 470.3 L540.63 470.75 L539.35 471.2 L538.08 471.65 L536.81 472.09 L535.53 472.54 L534.26 472.99 L532.99 473.43 L531.71 473.87 L530.44 474.31 L529.17 474.75 L527.89 475.18 L526.62 475.62 L525.35 476.05 L524.07 476.47 L522.8 476.9 L521.53 477.32 L520.25 477.74 L518.98 478.16 L517.7 478.57 L516.43 478.98 L515.16 479.39 L513.88 479.79 L512.61 480.19 L511.34 480.59 L510.06 480.98 L508.79 481.37 L507.52 481.75 L506.24 482.13 L504.97 482.5 L503.7 482.87Z" fill="#5b78f2"/>
<path d="M796.61 337.35 L797.88 336.74 L799.16 336.13 L800.43 335.54 L801.71 334.95 L802.98 334.37 L804.25 333.79 L805.53 333.23 L806.8 332.67 L808.07 332.11 L809.35 331.56 L810.62 331.02 L811.89 330.48 L813.17 329.95 L814.44 329.42 L815.71 328.89 L816.99 328.37 L818.26 327.85 L819.54 327.33 L819.54 327.95 L818.26 328.49 L816.99 329.04 L815.71 329.58 L814.44 330.13 L813.17 330.68 L811.89 331.23 L810.62 331.78 L809.35 332.33 L808.07 332.89 L806.8 333.45 L805.53 334.01 L804.25 334.57 L802.98 335.14 L801.71 335.7 L800.43 336.27 L799.16 336.84 L797.88 337.42 L796.61 337.99Z" fill="#5b78f2"/>
<path d="M642.51 429.86 L643.79 429.25 L645.06 428.65 L646.33 428.04 L647.61 427.42 L648.88 426.8 L650.15 426.18 L651.43 425.55 L652.7 424.91 L653.97 424.28 L655.25 423.63 L656.52 422.99 L657.79 422.34 L659.07 421.68 L660.34 421.02 L661.62 420.35 L662.89 419.68 L664.16 419 L665.44 418.32 L666.71 417.64 L667.98 416.95 L669.26 416.25 L670.53 415.55 L671.8 414.85 L673.08 414.14 L674.35 413.43 L675.62 412.71 L676.9 411.99 L678.17 411.27 L679.44 410.54 L680.72 409.81 L681.99 409.07 L683.27 408.33 L684.54 407.59 L685.81 406.84 L687.09 406.09 L688.36 405.33 L689.63 404.58 L690.91 403.82 L692.18 403.05 L693.45 402.28 L694.73 401.51 L696 400.74 L697.27 399.96 L698.55 399.19 L699.82 398.4 L701.1 397.62 L702.37 396.83 L703.64 396.04 L704.92 395.25 L706.19 394.46 L707.46 393.66 L708.74 392.86 L710.01 392.06 L711.28 391.26 L712.56 390.45 L713.83 389.65 L715.1 388.84 L716.38 388.03 L717.65 387.22 L718.92 386.4 L720.2 385.59 L721.47 384.77 L722.75 383.96 L724.02 383.14 L725.29 382.32 L726.57 381.49 L727.84 380.67 L727.84 382.03 L726.57 383.62 L725.29 385.19 L724.02 386.72 L722.75 388.2 L721.47 389.62 L720.2 390.96 L718.92 392.21 L717.65 393.37 L716.38 394.46 L715.1 395.46 L713.83 396.39 L712.56 397.26 L711.28 398.07 L710.01 398.83 L708.74 399.54 L707.46 400.21 L706.19 400.85 L704.92 401.46 L703.64 402.05 L702.37 402.63 L701.1 403.19 L699.82 403.75 L698.55 404.32 L697.27 404.89 L696 405.46 L694.73 406.04 L693.45 406.62 L692.18 407.21 L690.91 407.79 L689.63 408.38 L688.36 408.97 L687.09 409.57 L685.81 410.17 L684.54 410.76 L683.27 411.37 L681.99 411.97 L680.72 412.57 L679.44 413.18 L678.17 413.79 L676.9 414.39 L675.62 415 L674.35 415.61 L673.08 416.22 L671.8 416.83 L670.53 417.44 L669.26 418.05 L667.98 418.66 L666.71 419.27 L665.44 419.87 L664.16 420.48 L662.89 421.09 L661.62 421.69 L660.34 422.29 L659.07 422.9 L657.79 423.5 L656.52 424.09 L655.25 424.69 L653.97 425.28 L652.7 425.87 L651.43 426.46 L650.15 427.04 L648.88 427.62 L647.61 428.2 L646.33 428.78 L645.06 429.35 L643.79 429.91 L642.51 430.48Z" fill="#38f838"/>
<ellipse cx="417" cy="513" rx="6" ry="4" fill="#06168a" transform="rotate(-20 417 513)"/><ellipse cx="1046" cy="248.5" rx="3.8" ry="3.2" fill="#06168a"/>
<path d="M311.5 625.59H326M311.5 503.05H326M311.5 380.5H326M311.5 257.95H326M311.5 135.41H326M311.5 686.86H319M311.5 564.32H319M311.5 441.77H319M311.5 319.23H319M311.5 196.68H319M311.5 74.14H319" stroke="#000" stroke-width="9" fill="none"/>
<path d="M416.12 717.5V704M520.75 717.5V704M625.38 717.5V704M730 717.5V704M834.62 717.5V704M939.25 717.5V704M1043.88 717.5V704M363.81 717.5V711M468.44 717.5V711M573.06 717.5V711M677.69 717.5V711M782.31 717.5V711M886.94 717.5V711M991.56 717.5V711M1096.19 717.5V711" stroke="#000" stroke-width="9" fill="none"/>
<rect x="314.5" y="933.5" width="847" height="681" fill="none" stroke="#000" stroke-width="9"/>
<path d="M330 1274.5H1154" stroke="#000" stroke-width="3" stroke-dasharray="8 4"/>
<path d="M738 933.2V1610" stroke="#000" stroke-width="3.8" stroke-dasharray="8 4"/>
<path d="M446 1413.9 L447.17 1413.42 L448.34 1412.93 L449.51 1412.46 L450.69 1411.98 L451.86 1411.51 L453.03 1411.03 L454.2 1410.57 L455.37 1410.1 L456.54 1409.63 L457.71 1409.17 L458.88 1408.71 L460.06 1408.26 L461.23 1407.72 L462.4 1407.09 L463.57 1406.45 L464.74 1405.82 L465.91 1405.2 L467.08 1404.58 L468.26 1403.96 L469.43 1403.35 L470.6 1402.75 L471.77 1402.15 L472.94 1401.55 L474.11 1400.96 L475.28 1400.37 L476.45 1399.78 L477.63 1399.2 L478.8 1398.63 L479.97 1398.05 L481.14 1397.48 L482.31 1396.92 L483.48 1396.36 L484.65 1395.8 L485.83 1395.25 L487 1394.7 L488.17 1394.15 L489.34 1393.6 L490.51 1393.06 L491.68 1392.53 L492.85 1391.99 L494.03 1391.46 L495.2 1390.93 L496.37 1390.41 L497.54 1389.89 L498.71 1389.37 L499.88 1388.85 L501.05 1388.34 L502.22 1387.83 L503.4 1387.32 L504.57 1386.81 L505.74 1386.31 L506.91 1385.81 L508.08 1385.31 L509.25 1384.81 L510.42 1384.31 L511.6 1383.82 L512.77 1383.33 L513.94 1382.84 L515.11 1382.36 L516.28 1381.87 L517.45 1381.39 L518.62 1380.91 L519.79 1380.43 L520.97 1379.95 L522.14 1379.47 L523.31 1379 L524.48 1378.52 L525.65 1378.05 L526.82 1377.58 L527.99 1377.11 L529.17 1376.64 L530.34 1376.17 L531.51 1375.7 L532.68 1375.23 L533.85 1374.77 L535.02 1374.3 L536.19 1373.84 L537.36 1373.37 L538.54 1372.91 L539.71 1372.45 L540.88 1371.99 L542.05 1371.52 L543.22 1371.06 L544.39 1370.6 L545.56 1370.14 L546.74 1369.68 L547.91 1369.21 L549.08 1368.75 L550.25 1368.29 L551.42 1367.83 L552.59 1367.37 L553.76 1366.9 L554.93 1366.44 L556.11 1365.98 L557.28 1365.51 L558.45 1365.05 L559.62 1364.58 L560.79 1364.11 L561.96 1363.65 L563.13 1363.18 L564.31 1362.71 L565.48 1362.24 L566.65 1361.77 L567.82 1361.3 L568.99 1360.82 L570.16 1360.35 L571.33 1359.87 L572.51 1359.39 L573.68 1358.91 L574.85 1358.43 L576.02 1357.95 L577.19 1357.47 L578.36 1356.98 L579.53 1356.49 L580.7 1356 L581.88 1355.51 L583.05 1355.02 L584.22 1354.52 L585.39 1354.02 L586.56 1353.52 L587.73 1353.02 L588.9 1352.51 L590.08 1352 L591.25 1351.49 L592.42 1350.98 L593.59 1350.47 L594.76 1349.95 L595.93 1349.43 L597.1 1348.9 L598.27 1348.38 L599.45 1347.85 L600.62 1347.31 L601.79 1346.78 L602.96 1346.24 L604.13 1345.69 L605.3 1345.15 L606.47 1344.6 L607.65 1344.05 L608.82 1343.49 L609.99 1342.93 L611.16 1342.37 L612.33 1341.8 L613.5 1341.23 L614.67 1340.65 L615.84 1340.07 L617.02 1339.49 L618.19 1338.9 L619.36 1338.31 L620.53 1337.72 L621.7 1337.12 L622.87 1336.51 L624.04 1335.9 L625.22 1335.29 L626.39 1334.67 L627.56 1334.05 L628.73 1333.42 L629.9 1332.79 L631.07 1332.16 L632.24 1331.52 L633.41 1330.87 L634.59 1330.22 L635.76 1329.57 L636.93 1328.91 L638.1 1328.25 L639.27 1327.58 L640.44 1326.91 L641.61 1326.24 L642.79 1325.56 L643.96 1324.87 L645.13 1324.18 L646.3 1323.49 L647.47 1322.79 L648.64 1322.09 L649.81 1321.39 L650.98 1320.67 L652.16 1319.96 L653.33 1319.24 L654.5 1318.52 L655.67 1317.79 L656.84 1317.06 L658.01 1316.32 L659.18 1315.58 L660.36 1314.84 L661.53 1314.09 L662.7 1313.34 L663.87 1312.58 L665.04 1311.82 L666.21 1311.05 L667.38 1310.28 L668.56 1309.51 L669.73 1308.73 L670.9 1307.95 L672.07 1307.16 L673.24 1306.37 L674.41 1305.57 L675.58 1304.77 L676.75 1303.97 L677.93 1303.16 L679.1 1302.35 L680.27 1301.53 L681.44 1300.71 L682.61 1299.89 L683.78 1299.06 L684.95 1298.23 L686.13 1297.39 L687.3 1296.55 L688.47 1295.71 L689.64 1294.86 L690.81 1294.01 L691.98 1293.15 L693.15 1292.29 L694.32 1291.42 L695.5 1290.55 L696.67 1289.68 L697.84 1288.8 L699.01 1287.92 L700.18 1287.04 L701.35 1286.15 L702.52 1285.26 L703.7 1284.36 L704.87 1283.46 L706.04 1282.55 L707.21 1281.64 L708.38 1280.73 L709.55 1279.81 L710.72 1278.89 L711.89 1277.97 L713.07 1277.04 L714.24 1276.11 L715.41 1275.17 L716.58 1274.23 L717.75 1273.29 L718.92 1272.34 L720.09 1271.39 L721.27 1270.43 L722.44 1269.47 L723.61 1268.51 L724.78 1267.54 L725.95 1266.57 L727.12 1265.59 L728.29 1264.61 L729.46 1263.63 L730.64 1262.64 L731.81 1261.65 L732.98 1260.66 L734.15 1259.66 L735.32 1258.66 L736.49 1257.65 L737.66 1256.64 L738.84 1255.63 L740.01 1254.61 L741.18 1253.6 L742.35 1252.57 L743.52 1251.55 L744.69 1250.52 L745.86 1249.5 L747.04 1248.47 L748.21 1247.44 L749.38 1246.42 L750.55 1245.39 L751.72 1244.36 L752.89 1243.34 L754.06 1242.32 L755.23 1241.3 L756.41 1240.28 L757.58 1239.27 L758.75 1238.26 L759.92 1237.25 L761.09 1236.25 L762.26 1235.25 L763.43 1234.26 L764.61 1233.28 L765.78 1232.3 L766.95 1231.33 L768.12 1230.37 L769.29 1229.41 L770.46 1228.47 L771.63 1227.53 L772.8 1226.6 L773.98 1225.68 L775.15 1224.77 L776.32 1223.87 L777.49 1222.98 L778.66 1222.11 L779.83 1221.24 L781 1220.39 L782.18 1219.55 L783.35 1218.72 L784.52 1217.91 L785.69 1217.11 L786.86 1216.33 L788.03 1215.56 L789.2 1214.81 L790.37 1214.07 L791.55 1213.35 L792.72 1212.64 L793.89 1211.96 L795.06 1211.29 L796.23 1210.64 L797.4 1210 L798.57 1209.38 L799.75 1208.78 L800.92 1208.19 L802.09 1207.61 L803.26 1207.05 L804.43 1206.5 L805.6 1205.96 L806.77 1205.43 L807.94 1204.91 L809.12 1204.4 L810.29 1203.9 L811.46 1203.4 L812.63 1202.91 L813.8 1202.43 L814.97 1201.95 L816.14 1201.47 L817.32 1201 L818.49 1200.53 L819.66 1200.06 L820.83 1199.6 L822 1199.13 L823.17 1198.66 L824.34 1198.19 L825.52 1197.72 L826.69 1197.24 L827.86 1196.76 L829.03 1196.28 L830.2 1195.8 L831.37 1195.31 L832.54 1194.83 L833.71 1194.34 L834.89 1193.85 L836.06 1193.35 L837.23 1192.86 L838.4 1192.36 L839.57 1191.87 L840.74 1191.37 L841.91 1190.87 L843.09 1190.37 L844.26 1189.86 L845.43 1189.36 L846.6 1188.86 L847.77 1188.35 L848.94 1187.85 L850.11 1187.34 L851.28 1186.83 L852.46 1186.32 L853.63 1185.82 L854.8 1185.31 L855.97 1184.8 L857.14 1184.29 L858.31 1183.78 L859.48 1183.27 L860.66 1182.76 L861.83 1182.26 L863 1181.75 L864.17 1181.24 L865.34 1180.73 L866.51 1180.23 L867.68 1179.72 L868.85 1179.22 L870.03 1178.71 L871.2 1178.21 L872.37 1177.71 L873.54 1177.21 L874.71 1176.71 L875.88 1176.21 L877.05 1175.72 L878.23 1175.22 L879.4 1174.73 L880.57 1174.24 L881.74 1173.75 L882.91 1173.26 L884.08 1172.78 L885.25 1172.29 L886.42 1171.81 L887.6 1171.34 L888.77 1170.86 L889.94 1170.39 L891.11 1169.91 L892.28 1169.45 L893.45 1168.98 L894.62 1168.52 L895.8 1168.06 L896.97 1167.6 L898.14 1167.15 L899.31 1166.7 L900.48 1166.25 L901.65 1165.81 L902.82 1165.37 L903.99 1164.93 L905.17 1164.5 L906.34 1164.07 L907.51 1163.65 L908.68 1163.23 L909.85 1162.81 L911.02 1162.4 L912.19 1161.99 L913.37 1161.59 L914.54 1161.19 L915.71 1160.8 L916.88 1160.41 L918.05 1160.02 L919.22 1159.64 L920.39 1159.26 L921.57 1158.89 L922.74 1158.52 L923.91 1158.15 L925.08 1157.79 L926.25 1157.43 L927.42 1157.07 L928.59 1156.72 L929.76 1156.37 L930.94 1156.02 L932.11 1155.68 L933.28 1155.34 L934.45 1155 L935.62 1154.66 L936.79 1154.33 L937.96 1154 L939.14 1153.67 L940.31 1153.34 L941.48 1153.02 L942.65 1152.7 L943.82 1152.38 L944.99 1152.06 L946.16 1151.74 L947.33 1151.42 L948.51 1151.11 L949.68 1150.8 L950.85 1150.48 L952.02 1150.17 L953.19 1149.86 L954.36 1149.55 L955.53 1149.24 L956.71 1148.94 L957.88 1148.63 L959.05 1148.32 L960.22 1148.01 L961.39 1147.71 L962.56 1147.4 L963.73 1147.09 L964.9 1146.78 L966.08 1146.48 L967.25 1146.17 L968.42 1145.86 L969.59 1145.55 L970.76 1145.24 L971.93 1144.93 L973.1 1144.62 L974.28 1144.3 L975.45 1143.99 L976.62 1143.67 L977.79 1143.36 L978.96 1143.04 L980.13 1142.72 L981.3 1142.39 L982.47 1142.07 L983.65 1141.74 L984.82 1141.42 L985.99 1141.09 L987.16 1140.75 L988.33 1140.42 L989.5 1140.08 L990.67 1139.74 L991.85 1139.4 L993.02 1139.05 L994.19 1138.7 L995.36 1138.35 L996.53 1137.99 L997.7 1137.64 L998.87 1137.27 L1000.05 1136.91 L1001.22 1136.54 L1002.39 1136.17 L1003.56 1135.79 L1004.73 1135.41 L1005.9 1135.03 L1007.07 1134.65 L1008.24 1134.27 L1009.42 1133.9 L1010.59 1133.54 L1011.76 1133.18 L1012.93 1132.84 L1014.1 1132.52 L1015.27 1132.21 L1016.44 1131.93 L1017.62 1131.67 L1018.79 1131.43 L1019.96 1131.08 L1021.13 1130.71 L1022.3 1130.35 L1023.47 1130.01 L1024.64 1129.69 L1025.81 1129.39 L1026.99 1129.11 L1028.16 1128.85 L1029.33 1128.61 L1030.5 1128.4 L1030.5 1133.6 L1029.33 1133.81 L1028.16 1134.05 L1026.99 1134.31 L1025.81 1134.59 L1024.64 1134.89 L1023.47 1135.21 L1022.3 1135.55 L1021.13 1135.91 L1019.96 1136.28 L1018.79 1136.7 L1017.62 1137.25 L1016.44 1137.81 L1015.27 1138.37 L1014.1 1138.92 L1012.93 1139.47 L1011.76 1140.02 L1010.59 1140.57 L1009.42 1141.12 L1008.24 1141.66 L1007.07 1142.21 L1005.9 1142.75 L1004.73 1143.29 L1003.56 1143.83 L1002.39 1144.37 L1001.22 1144.9 L1000.05 1145.43 L998.87 1145.97 L997.7 1146.5 L996.53 1147.03 L995.36 1147.55 L994.19 1148.08 L993.02 1148.6 L991.85 1149.13 L990.67 1149.65 L989.5 1150.17 L988.33 1150.69 L987.16 1151.2 L985.99 1151.72 L984.82 1152.23 L983.65 1152.75 L982.47 1153.26 L981.3 1153.77 L980.13 1154.28 L978.96 1154.79 L977.79 1155.29 L976.62 1155.8 L975.45 1156.3 L974.28 1156.8 L973.1 1157.31 L971.93 1157.81 L970.76 1158.31 L969.59 1158.8 L968.42 1159.3 L967.25 1159.79 L966.08 1160.29 L964.9 1160.78 L963.73 1161.27 L962.56 1161.77 L961.39 1162.26 L960.22 1162.74 L959.05 1163.23 L957.88 1163.72 L956.71 1164.2 L955.53 1164.69 L954.36 1165.17 L953.19 1165.66 L952.02 1166.14 L950.85 1166.62 L949.68 1167.1 L948.51 1167.58 L947.33 1168.05 L946.16 1168.53 L944.99 1169.01 L943.82 1169.48 L942.65 1169.96 L941.48 1170.43 L940.31 1170.91 L939.14 1171.38 L937.96 1171.85 L936.79 1172.32 L935.62 1172.79 L934.45 1173.26 L933.28 1173.73 L932.11 1174.2 L930.94 1174.66 L929.76 1175.13 L928.59 1175.6 L927.42 1176.06 L926.25 1176.52 L925.08 1176.99 L923.91 1177.45 L922.74 1177.92 L921.57 1178.38 L920.39 1178.84 L919.22 1179.3 L918.05 1179.76 L916.88 1180.22 L915.71 1180.68 L914.54 1181.14 L913.37 1181.6 L912.19 1182.06 L911.02 1182.52 L909.85 1182.97 L908.68 1183.43 L907.51 1183.89 L906.34 1184.35 L905.17 1184.8 L903.99 1185.26 L902.82 1185.72 L901.65 1186.18 L900.48 1186.64 L899.31 1187.09 L898.14 1187.55 L896.97 1188.01 L895.8 1188.47 L894.62 1188.93 L893.45 1189.4 L892.28 1189.86 L891.11 1190.32 L889.94 1190.79 L888.77 1191.25 L887.6 1191.72 L886.42 1192.19 L885.25 1192.66 L884.08 1193.13 L882.91 1193.6 L881.74 1194.07 L880.57 1194.55 L879.4 1195.02 L878.23 1195.5 L877.05 1195.98 L875.88 1196.46 L874.71 1196.95 L873.54 1197.43 L872.37 1197.92 L871.2 1198.41 L870.03 1198.9 L868.85 1199.39 L867.68 1199.89 L866.51 1200.39 L865.34 1200.89 L864.17 1201.4 L863 1201.9 L861.83 1202.41 L860.66 1202.92 L859.48 1203.44 L858.31 1203.96 L857.14 1204.48 L855.97 1205 L854.8 1205.53 L853.63 1206.06 L852.46 1206.59 L851.28 1207.13 L850.11 1207.67 L848.94 1208.21 L847.77 1208.76 L846.6 1209.31 L845.43 1209.87 L844.26 1210.43 L843.09 1210.99 L841.91 1211.56 L840.74 1212.13 L839.57 1212.7 L838.4 1213.28 L837.23 1213.86 L836.06 1214.45 L834.89 1215.04 L833.71 1215.64 L832.54 1216.24 L831.37 1216.84 L830.2 1217.45 L829.03 1218.07 L827.86 1218.69 L826.69 1219.31 L825.52 1219.94 L824.34 1220.57 L823.17 1221.21 L822 1221.86 L820.83 1222.51 L819.66 1223.16 L818.49 1223.82 L817.32 1224.49 L816.14 1225.16 L814.97 1225.84 L813.8 1226.52 L812.63 1227.21 L811.46 1227.91 L810.29 1228.61 L809.12 1229.32 L807.94 1230.03 L806.77 1230.75 L805.6 1231.48 L804.43 1232.21 L803.26 1232.95 L802.09 1233.7 L800.92 1234.45 L799.75 1235.21 L798.57 1235.98 L797.4 1236.76 L796.23 1237.54 L795.06 1238.33 L793.89 1239.12 L792.72 1239.93 L791.55 1240.74 L790.37 1241.55 L789.2 1242.36 L788.03 1243.17 L786.86 1243.98 L785.69 1244.79 L784.52 1245.59 L783.35 1246.39 L782.18 1247.18 L781 1247.95 L779.83 1248.72 L778.66 1249.47 L777.49 1250.21 L776.32 1250.93 L775.15 1251.63 L773.98 1252.31 L772.8 1252.97 L771.63 1253.61 L770.46 1254.22 L769.29 1254.81 L768.12 1255.36 L766.95 1255.89 L765.78 1256.39 L764.61 1256.85 L763.43 1257.28 L762.26 1257.69 L761.09 1258.08 L759.92 1258.47 L758.75 1258.87 L757.58 1259.28 L756.41 1259.72 L755.23 1260.2 L754.06 1260.72 L752.89 1261.3 L751.72 1261.94 L750.55 1262.65 L749.38 1263.45 L748.21 1264.35 L747.04 1265.35 L745.86 1266.46 L744.69 1267.7 L743.52 1269.07 L742.35 1270.59 L741.18 1272.25 L740.01 1274.08 L738.84 1276.09 L737.66 1278.25 L736.49 1280.51 L735.32 1282.83 L734.15 1285.17 L732.98 1287.47 L731.81 1289.68 L730.64 1291.77 L729.46 1293.71 L728.29 1295.52 L727.12 1297.21 L725.95 1298.78 L724.78 1300.25 L723.61 1301.62 L722.44 1302.9 L721.27 1304.1 L720.09 1305.24 L718.92 1306.31 L717.75 1307.34 L716.58 1308.33 L715.41 1309.28 L714.24 1310.21 L713.07 1311.13 L711.89 1312.03 L710.72 1312.94 L709.55 1313.83 L708.38 1314.72 L707.21 1315.59 L706.04 1316.47 L704.87 1317.33 L703.7 1318.19 L702.52 1319.04 L701.35 1319.88 L700.18 1320.71 L699.01 1321.54 L697.84 1322.36 L696.67 1323.18 L695.5 1323.99 L694.32 1324.79 L693.15 1325.58 L691.98 1326.37 L690.81 1327.15 L689.64 1327.93 L688.47 1328.7 L687.3 1329.46 L686.13 1330.22 L684.95 1330.97 L683.78 1331.71 L682.61 1332.45 L681.44 1333.18 L680.27 1333.9 L679.1 1334.62 L677.93 1335.34 L676.75 1336.05 L675.58 1336.75 L674.41 1337.45 L673.24 1338.14 L672.07 1338.82 L670.9 1339.5 L669.73 1340.18 L668.56 1340.85 L667.38 1341.51 L666.21 1342.17 L665.04 1342.82 L663.87 1343.47 L662.7 1344.11 L661.53 1344.75 L660.36 1345.39 L659.18 1346.01 L658.01 1346.64 L656.84 1347.26 L655.67 1347.87 L654.5 1348.48 L653.33 1349.09 L652.16 1349.69 L650.98 1350.28 L649.81 1350.88 L648.64 1351.46 L647.47 1352.05 L646.3 1352.63 L645.13 1353.2 L643.96 1353.77 L642.79 1354.34 L641.61 1354.9 L640.44 1355.46 L639.27 1356.02 L638.1 1356.57 L636.93 1357.12 L635.76 1357.66 L634.59 1358.2 L633.41 1358.74 L632.24 1359.27 L631.07 1359.8 L629.9 1360.33 L628.73 1360.86 L627.56 1361.38 L626.39 1361.89 L625.22 1362.41 L624.04 1362.92 L622.87 1363.43 L621.7 1363.93 L620.53 1364.44 L619.36 1364.94 L618.19 1365.43 L617.02 1365.93 L615.84 1366.42 L614.67 1366.91 L613.5 1367.39 L612.33 1367.88 L611.16 1368.36 L609.99 1368.83 L608.82 1369.31 L607.65 1369.78 L606.47 1370.25 L605.3 1370.72 L604.13 1371.18 L602.96 1371.64 L601.79 1372.1 L600.62 1372.56 L599.45 1373.01 L598.27 1373.46 L597.1 1373.91 L595.93 1374.36 L594.76 1374.8 L593.59 1375.24 L592.42 1375.68 L591.25 1376.11 L590.08 1376.55 L588.9 1376.98 L587.73 1377.41 L586.56 1377.83 L585.39 1378.26 L584.22 1378.68 L583.05 1379.1 L581.88 1379.51 L580.7 1379.93 L579.53 1380.34 L578.36 1380.75 L577.19 1381.16 L576.02 1381.56 L574.85 1381.96 L573.68 1382.37 L572.51 1382.76 L571.33 1383.16 L570.16 1383.55 L568.99 1383.95 L567.82 1384.34 L566.65 1384.72 L565.48 1385.11 L564.31 1385.49 L563.13 1385.87 L561.96 1386.25 L560.79 1386.63 L559.62 1387.01 L558.45 1387.38 L557.28 1387.75 L556.11 1388.12 L554.93 1388.49 L553.76 1388.85 L552.59 1389.22 L551.42 1389.58 L550.25 1389.94 L549.08 1390.3 L547.91 1390.65 L546.74 1391.01 L545.56 1391.36 L544.39 1391.71 L543.22 1392.06 L542.05 1392.41 L540.88 1392.75 L539.71 1393.1 L538.54 1393.44 L537.36 1393.78 L536.19 1394.12 L535.02 1394.45 L533.85 1394.79 L532.68 1395.12 L531.51 1395.45 L530.34 1395.79 L529.17 1396.11 L527.99 1396.44 L526.82 1396.77 L525.65 1397.09 L524.48 1397.41 L523.31 1397.74 L522.14 1398.06 L520.97 1398.37 L519.79 1398.69 L518.62 1399.01 L517.45 1399.32 L516.28 1399.63 L515.11 1399.94 L513.94 1400.25 L512.77 1400.56 L511.6 1400.87 L510.42 1401.18 L509.25 1401.48 L508.08 1401.78 L506.91 1402.09 L505.74 1402.39 L504.57 1402.69 L503.4 1402.99 L502.22 1403.28 L501.05 1403.58 L499.88 1403.87 L498.71 1404.17 L497.54 1404.46 L496.37 1404.75 L495.2 1405.04 L494.03 1405.33 L492.85 1405.62 L491.68 1405.91 L490.51 1406.2 L489.34 1406.48 L488.17 1406.77 L487 1407.05 L485.83 1407.33 L484.65 1407.61 L483.48 1407.89 L482.31 1408.17 L481.14 1408.45 L479.97 1408.73 L478.8 1409.01 L477.63 1409.29 L476.45 1409.56 L475.28 1409.84 L474.11 1410.11 L472.94 1410.38 L471.77 1410.66 L470.6 1410.93 L469.43 1411.2 L468.26 1411.47 L467.08 1411.74 L465.91 1412.01 L464.74 1412.28 L463.57 1412.55 L462.4 1412.81 L461.23 1413.08 L460.06 1413.46 L458.88 1413.91 L457.71 1414.37 L456.54 1414.83 L455.37 1415.3 L454.2 1415.77 L453.03 1416.23 L451.86 1416.71 L450.69 1417.18 L449.51 1417.66 L448.34 1418.13 L447.17 1418.62 L446 1419.1Z" fill="#06168a"/>
<path d="M474.11 1405.16 L475.28 1404.57 L476.45 1403.98 L477.63 1403.4 L478.8 1402.83 L479.97 1402.25 L481.14 1401.68 L482.31 1401.12 L483.48 1400.56 L484.65 1400 L485.83 1399.45 L487 1398.9 L488.17 1398.35 L489.34 1397.8 L490.51 1397.26 L491.68 1396.73 L492.85 1396.19 L494.03 1395.66 L495.2 1395.13 L496.37 1394.61 L497.54 1394.09 L498.71 1393.57 L499.88 1393.05 L501.05 1392.54 L502.22 1392.03 L503.4 1391.52 L504.57 1391.01 L505.74 1390.51 L506.91 1390.01 L508.08 1389.51 L509.25 1389.01 L510.42 1388.51 L511.6 1388.02 L512.77 1387.53 L513.94 1387.04 L515.11 1386.56 L516.28 1386.07 L517.45 1385.59 L518.62 1385.11 L519.79 1384.63 L520.97 1384.15 L522.14 1383.67 L523.31 1383.2 L524.48 1382.72 L525.65 1382.25 L526.82 1381.78 L527.99 1381.31 L529.17 1380.84 L530.34 1380.37 L531.51 1379.9 L532.68 1379.43 L533.85 1378.97 L535.02 1378.5 L536.19 1378.04 L537.36 1377.57 L538.54 1377.11 L539.71 1376.65 L540.88 1376.19 L542.05 1375.72 L543.22 1375.26 L544.39 1374.8 L545.56 1374.34 L546.74 1373.88 L547.91 1373.41 L549.08 1372.95 L550.25 1372.49 L551.42 1372.03 L552.59 1371.57 L553.76 1371.1 L554.93 1370.64 L556.11 1370.18 L557.28 1369.71 L558.45 1369.25 L559.62 1368.78 L560.79 1368.31 L561.96 1367.85 L563.13 1367.38 L564.31 1366.91 L565.48 1366.44 L566.65 1365.97 L567.82 1365.5 L568.99 1365.02 L570.16 1364.55 L571.33 1364.07 L572.51 1363.59 L573.68 1363.11 L574.85 1362.63 L576.02 1362.15 L577.19 1361.67 L578.36 1361.18 L579.53 1360.69 L580.7 1360.2 L581.88 1359.71 L583.05 1359.22 L584.22 1358.72 L585.39 1358.22 L586.56 1357.72 L587.73 1357.22 L588.9 1356.71 L590.08 1356.2 L591.25 1355.69 L592.42 1355.18 L593.59 1354.67 L594.76 1354.15 L595.93 1353.63 L597.1 1353.1 L598.27 1352.58 L599.45 1352.05 L600.62 1351.51 L601.79 1350.98 L602.96 1350.44 L604.13 1349.89 L605.3 1349.35 L606.47 1348.8 L607.65 1348.25 L608.82 1347.69 L609.99 1347.13 L611.16 1346.57 L612.33 1346 L613.5 1345.43 L614.67 1344.85 L615.84 1344.27 L617.02 1343.69 L618.19 1343.1 L619.36 1342.51 L620.53 1341.92 L621.7 1341.32 L622.87 1340.71 L624.04 1340.1 L625.22 1339.49 L626.39 1338.87 L627.56 1338.25 L628.73 1337.62 L629.9 1336.99 L631.07 1336.36 L632.24 1335.72 L633.41 1335.07 L634.59 1334.42 L635.76 1333.77 L636.93 1333.11 L638.1 1332.45 L639.27 1331.78 L640.44 1331.11 L641.61 1330.44 L642.79 1329.76 L643.96 1329.07 L645.13 1328.38 L646.3 1327.69 L647.47 1326.99 L648.64 1326.29 L649.81 1325.59 L650.98 1324.87 L652.16 1324.16 L653.33 1323.44 L654.5 1322.72 L655.67 1321.99 L656.84 1321.26 L658.01 1320.52 L659.18 1319.78 L660.36 1319.04 L661.53 1318.29 L662.7 1317.54 L663.87 1316.78 L665.04 1316.02 L666.21 1315.25 L667.38 1314.48 L668.56 1313.71 L669.73 1312.93 L670.9 1312.15 L672.07 1311.36 L673.24 1310.57 L674.41 1309.77 L675.58 1308.97 L676.75 1308.17 L677.93 1307.36 L679.1 1306.55 L680.27 1305.73 L681.44 1304.91 L682.61 1304.09 L683.78 1303.26 L684.95 1302.43 L686.13 1301.59 L687.3 1300.75 L688.47 1299.91 L689.64 1299.06 L690.81 1298.21 L691.98 1297.35 L693.15 1296.49 L694.32 1295.62 L695.5 1294.75 L696.67 1293.88 L697.84 1293 L699.01 1292.12 L700.18 1291.24 L701.35 1290.35 L702.52 1289.46 L703.7 1288.56 L704.87 1287.66 L706.04 1286.75 L707.21 1285.84 L708.38 1284.93 L709.55 1284.01 L710.72 1283.09 L711.89 1282.17 L713.07 1281.24 L714.24 1280.31 L715.41 1279.37 L716.58 1278.43 L717.75 1277.49 L718.92 1276.54 L720.09 1275.59 L721.27 1274.63 L722.44 1273.67 L723.61 1272.71 L724.78 1271.74 L725.95 1270.77 L727.12 1269.79 L728.29 1268.81 L729.46 1267.83 L730.64 1266.84 L731.81 1265.85 L732.98 1264.86 L734.15 1263.86 L735.32 1262.86 L736.49 1261.85 L737.66 1260.84 L738.84 1259.83 L740.01 1258.81 L741.18 1257.8 L742.35 1256.77 L743.52 1255.75 L744.69 1254.72 L745.86 1253.7 L747.04 1252.67 L748.21 1251.64 L749.38 1250.62 L750.55 1249.59 L751.72 1248.56 L752.89 1247.54 L754.06 1246.52 L755.23 1245.5 L756.41 1244.48 L757.58 1243.47 L758.75 1242.46 L759.92 1241.45 L761.09 1240.45 L762.26 1239.45 L763.43 1238.46 L764.61 1237.48 L765.78 1236.5 L766.95 1235.53 L768.12 1234.57 L769.29 1233.61 L770.46 1232.67 L771.63 1231.73 L772.8 1230.8 L773.98 1229.88 L775.15 1228.97 L776.32 1228.07 L777.49 1227.18 L778.66 1226.31 L779.83 1225.44 L781 1224.59 L782.18 1223.75 L783.35 1222.92 L784.52 1222.11 L785.69 1221.31 L786.86 1220.53 L788.03 1219.76 L789.2 1219.01 L790.37 1218.27 L791.55 1217.55 L792.72 1216.84 L793.89 1216.16 L795.06 1215.49 L796.23 1214.84 L797.4 1214.2 L798.57 1213.58 L799.75 1212.98 L800.92 1212.39 L802.09 1211.81 L803.26 1211.25 L804.43 1210.7 L805.6 1210.16 L806.77 1209.63 L807.94 1209.11 L809.12 1208.6 L810.29 1208.1 L811.46 1207.6 L812.63 1207.11 L813.8 1206.63 L814.97 1206.15 L816.14 1205.67 L817.32 1205.2 L818.49 1204.73 L819.66 1204.26 L820.83 1203.8 L822 1203.33 L823.17 1202.86 L824.34 1202.39 L825.52 1201.92 L826.69 1201.44 L827.86 1200.96 L829.03 1200.48 L830.2 1200 L831.37 1199.51 L832.54 1199.03 L833.71 1198.54 L834.89 1198.05 L836.06 1197.55 L837.23 1197.06 L838.4 1196.56 L839.57 1196.07 L840.74 1195.57 L841.91 1195.07 L843.09 1194.57 L844.26 1194.06 L845.43 1193.56 L846.6 1193.06 L847.77 1192.55 L848.94 1192.05 L850.11 1191.54 L851.28 1191.03 L852.46 1190.52 L853.63 1190.02 L854.8 1189.51 L855.97 1189 L857.14 1188.49 L858.31 1187.98 L859.48 1187.47 L860.66 1186.96 L861.83 1186.46 L863 1185.95 L864.17 1185.44 L865.34 1184.93 L866.51 1184.43 L867.68 1183.92 L868.85 1183.42 L870.03 1182.91 L871.2 1182.41 L872.37 1181.91 L873.54 1181.41 L874.71 1180.91 L875.88 1180.41 L877.05 1179.92 L878.23 1179.42 L879.4 1178.93 L880.57 1178.44 L881.74 1177.95 L882.91 1177.46 L884.08 1176.98 L885.25 1176.49 L886.42 1176.01 L887.6 1175.54 L888.77 1175.06 L889.94 1174.59 L891.11 1174.11 L892.28 1173.65 L893.45 1173.18 L894.62 1172.72 L895.8 1172.26 L896.97 1171.8 L898.14 1171.35 L899.31 1170.9 L900.48 1170.45 L901.65 1170.01 L902.82 1169.57 L903.99 1169.13 L905.17 1168.7 L906.34 1168.27 L907.51 1167.85 L908.68 1167.43 L909.85 1167.01 L911.02 1166.6 L912.19 1166.19 L913.37 1165.79 L914.54 1165.39 L915.71 1165 L916.88 1164.61 L918.05 1164.22 L919.22 1163.84 L920.39 1163.46 L921.57 1163.09 L922.74 1162.72 L923.91 1162.35 L925.08 1161.99 L926.25 1161.63 L927.42 1161.27 L928.59 1160.92 L929.76 1160.57 L930.94 1160.22 L932.11 1159.88 L933.28 1159.54 L934.45 1159.2 L935.62 1158.86 L936.79 1158.53 L937.96 1158.2 L939.14 1157.87 L940.31 1157.54 L941.48 1157.22 L942.65 1156.9 L943.82 1156.58 L944.99 1156.26 L946.16 1155.94 L947.33 1155.62 L948.51 1155.31 L949.68 1155 L950.85 1154.68 L952.02 1154.37 L953.19 1154.06 L954.36 1153.75 L955.53 1153.44 L956.71 1153.14 L957.88 1152.83 L959.05 1152.52 L960.22 1152.21 L961.39 1151.91 L962.56 1151.6 L963.73 1151.29 L964.9 1150.98 L966.08 1150.68 L967.25 1150.37 L968.42 1150.06 L969.59 1149.75 L970.76 1149.44 L971.93 1149.13 L973.1 1148.82 L974.28 1148.5 L975.45 1148.19 L976.62 1147.87 L977.79 1147.56 L978.96 1147.24 L980.13 1146.92 L981.3 1146.59 L982.47 1146.27 L983.65 1145.94 L984.82 1145.62 L985.99 1145.29 L987.16 1144.95 L988.33 1144.62 L989.5 1144.28 L990.67 1143.94 L991.85 1143.6 L993.02 1143.25 L994.19 1142.9 L995.36 1142.55 L996.53 1142.19 L996.53 1142.83 L995.36 1143.35 L994.19 1143.88 L993.02 1144.4 L991.85 1144.93 L990.67 1145.45 L989.5 1145.97 L988.33 1146.49 L987.16 1147 L985.99 1147.52 L984.82 1148.03 L983.65 1148.55 L982.47 1149.06 L981.3 1149.57 L980.13 1150.08 L978.96 1150.59 L977.79 1151.09 L976.62 1151.6 L975.45 1152.1 L974.28 1152.6 L973.1 1153.11 L971.93 1153.61 L970.76 1154.11 L969.59 1154.6 L968.42 1155.1 L967.25 1155.59 L966.08 1156.09 L964.9 1156.58 L963.73 1157.07 L962.56 1157.57 L961.39 1158.06 L960.22 1158.54 L959.05 1159.03 L957.88 1159.52 L956.71 1160 L955.53 1160.49 L954.36 1160.97 L953.19 1161.46 L952.02 1161.94 L950.85 1162.42 L949.68 1162.9 L948.51 1163.38 L947.33 1163.85 L946.16 1164.33 L944.99 1164.81 L943.82 1165.28 L942.65 1165.76 L941.48 1166.23 L940.31 1166.71 L939.14 1167.18 L937.96 1167.65 L936.79 1168.12 L935.62 1168.59 L934.45 1169.06 L933.28 1169.53 L932.11 1170 L930.94 1170.46 L929.76 1170.93 L928.59 1171.4 L927.42 1171.86 L926.25 1172.32 L925.08 1172.79 L923.91 1173.25 L922.74 1173.72 L921.57 1174.18 L920.39 1174.64 L919.22 1175.1 L918.05 1175.56 L916.88 1176.02 L915.71 1176.48 L914.54 1176.94 L913.37 1177.4 L912.19 1177.86 L911.02 1178.32 L909.85 1178.77 L908.68 1179.23 L907.51 1179.69 L906.34 1180.15 L905.17 1180.6 L903.99 1181.06 L902.82 1181.52 L901.65 1181.98 L900.48 1182.44 L899.31 1182.89 L898.14 1183.35 L896.97 1183.81 L895.8 1184.27 L894.62 1184.73 L893.45 1185.2 L892.28 1185.66 L891.11 1186.12 L889.94 1186.59 L888.77 1187.05 L887.6 1187.52 L886.42 1187.99 L885.25 1188.46 L884.08 1188.93 L882.91 1189.4 L881.74 1189.87 L880.57 1190.35 L879.4 1190.82 L878.23 1191.3 L877.05 1191.78 L875.88 1192.26 L874.71 1192.75 L873.54 1193.23 L872.37 1193.72 L871.2 1194.21 L870.03 1194.7 L868.85 1195.19 L867.68 1195.69 L866.51 1196.19 L865.34 1196.69 L864.17 1197.2 L863 1197.7 L861.83 1198.21 L860.66 1198.72 L859.48 1199.24 L858.31 1199.76 L857.14 1200.28 L855.97 1200.8 L854.8 1201.33 L853.63 1201.86 L852.46 1202.39 L851.28 1202.93 L850.11 1203.47 L848.94 1204.01 L847.77 1204.56 L846.6 1205.11 L845.43 1205.67 L844.26 1206.23 L843.09 1206.79 L841.91 1207.36 L840.74 1207.93 L839.57 1208.5 L838.4 1209.08 L837.23 1209.66 L836.06 1210.25 L834.89 1210.84 L833.71 1211.44 L832.54 1212.04 L831.37 1212.64 L830.2 1213.25 L829.03 1213.87 L827.86 1214.49 L826.69 1215.11 L825.52 1215.74 L824.34 1216.37 L823.17 1217.01 L822 1217.66 L820.83 1218.31 L819.66 1218.96 L818.49 1219.62 L817.32 1220.29 L816.14 1220.96 L814.97 1221.64 L813.8 1222.32 L812.63 1223.01 L811.46 1223.71 L810.29 1224.41 L809.12 1225.12 L807.94 1225.83 L806.77 1226.55 L805.6 1227.28 L804.43 1228.01 L803.26 1228.75 L802.09 1229.5 L800.92 1230.25 L799.75 1231.01 L798.57 1231.78 L797.4 1232.56 L796.23 1233.34 L795.06 1234.13 L793.89 1234.92 L792.72 1235.73 L791.55 1236.54 L790.37 1237.35 L789.2 1238.16 L788.03 1238.97 L786.86 1239.78 L785.69 1240.59 L784.52 1241.39 L783.35 1242.19 L782.18 1242.98 L781 1243.75 L779.83 1244.52 L778.66 1245.27 L777.49 1246.01 L776.32 1246.73 L775.15 1247.43 L773.98 1248.11 L772.8 1248.77 L771.63 1249.41 L770.46 1250.02 L769.29 1250.61 L768.12 1251.16 L766.95 1251.69 L765.78 1252.19 L764.61 1252.65 L763.43 1253.08 L762.26 1253.49 L761.09 1253.88 L759.92 1254.27 L758.75 1254.67 L757.58 1255.08 L756.41 1255.52 L755.23 1256 L754.06 1256.52 L752.89 1257.1 L751.72 1257.74 L750.55 1258.45 L749.38 1259.25 L748.21 1260.15 L747.04 1261.15 L745.86 1262.26 L744.69 1263.5 L743.52 1264.87 L742.35 1266.39 L741.18 1268.05 L740.01 1269.88 L738.84 1271.89 L737.66 1274.05 L736.49 1276.31 L735.32 1278.63 L734.15 1280.97 L732.98 1283.27 L731.81 1285.48 L730.64 1287.57 L729.46 1289.51 L728.29 1291.32 L727.12 1293.01 L725.95 1294.58 L724.78 1296.05 L723.61 1297.42 L722.44 1298.7 L721.27 1299.9 L720.09 1301.04 L718.92 1302.11 L717.75 1303.14 L716.58 1304.13 L715.41 1305.08 L714.24 1306.01 L713.07 1306.93 L711.89 1307.83 L710.72 1308.74 L709.55 1309.63 L708.38 1310.52 L707.21 1311.39 L706.04 1312.27 L704.87 1313.13 L703.7 1313.99 L702.52 1314.84 L701.35 1315.68 L700.18 1316.51 L699.01 1317.34 L697.84 1318.16 L696.67 1318.98 L695.5 1319.79 L694.32 1320.59 L693.15 1321.38 L691.98 1322.17 L690.81 1322.95 L689.64 1323.73 L688.47 1324.5 L687.3 1325.26 L686.13 1326.02 L684.95 1326.77 L683.78 1327.51 L682.61 1328.25 L681.44 1328.98 L680.27 1329.7 L679.1 1330.42 L677.93 1331.14 L676.75 1331.85 L675.58 1332.55 L674.41 1333.25 L673.24 1333.94 L672.07 1334.62 L670.9 1335.3 L669.73 1335.98 L668.56 1336.65 L667.38 1337.31 L666.21 1337.97 L665.04 1338.62 L663.87 1339.27 L662.7 1339.91 L661.53 1340.55 L660.36 1341.19 L659.18 1341.81 L658.01 1342.44 L656.84 1343.06 L655.67 1343.67 L654.5 1344.28 L653.33 1344.89 L652.16 1345.49 L650.98 1346.08 L649.81 1346.68 L648.64 1347.26 L647.47 1347.85 L646.3 1348.43 L645.13 1349 L643.96 1349.57 L642.79 1350.14 L641.61 1350.7 L640.44 1351.26 L639.27 1351.82 L638.1 1352.37 L636.93 1352.92 L635.76 1353.46 L634.59 1354 L633.41 1354.54 L632.24 1355.07 L631.07 1355.6 L629.9 1356.13 L628.73 1356.66 L627.56 1357.18 L626.39 1357.69 L625.22 1358.21 L624.04 1358.72 L622.87 1359.23 L621.7 1359.73 L620.53 1360.24 L619.36 1360.74 L618.19 1361.23 L617.02 1361.73 L615.84 1362.22 L614.67 1362.71 L613.5 1363.19 L612.33 1363.68 L611.16 1364.16 L609.99 1364.63 L608.82 1365.11 L607.65 1365.58 L606.47 1366.05 L605.3 1366.52 L604.13 1366.98 L602.96 1367.44 L601.79 1367.9 L600.62 1368.36 L599.45 1368.81 L598.27 1369.26 L597.1 1369.71 L595.93 1370.16 L594.76 1370.6 L593.59 1371.04 L592.42 1371.48 L591.25 1371.91 L590.08 1372.35 L588.9 1372.78 L587.73 1373.21 L586.56 1373.63 L585.39 1374.06 L584.22 1374.48 L583.05 1374.9 L581.88 1375.31 L580.7 1375.73 L579.53 1376.14 L578.36 1376.55 L577.19 1376.96 L576.02 1377.36 L574.85 1377.76 L573.68 1378.17 L572.51 1378.56 L571.33 1378.96 L570.16 1379.35 L568.99 1379.75 L567.82 1380.14 L566.65 1380.52 L565.48 1380.91 L564.31 1381.29 L563.13 1381.67 L561.96 1382.05 L560.79 1382.43 L559.62 1382.81 L558.45 1383.18 L557.28 1383.55 L556.11 1383.92 L554.93 1384.29 L553.76 1384.65 L552.59 1385.02 L551.42 1385.38 L550.25 1385.74 L549.08 1386.1 L547.91 1386.45 L546.74 1386.81 L545.56 1387.16 L544.39 1387.51 L543.22 1387.86 L542.05 1388.21 L540.88 1388.55 L539.71 1388.9 L538.54 1389.24 L537.36 1389.58 L536.19 1389.92 L535.02 1390.25 L533.85 1390.59 L532.68 1390.92 L531.51 1391.25 L530.34 1391.59 L529.17 1391.91 L527.99 1392.24 L526.82 1392.57 L525.65 1392.89 L524.48 1393.21 L523.31 1393.54 L522.14 1393.86 L520.97 1394.17 L519.79 1394.49 L518.62 1394.81 L517.45 1395.12 L516.28 1395.43 L515.11 1395.74 L513.94 1396.05 L512.77 1396.36 L511.6 1396.67 L510.42 1396.98 L509.25 1397.28 L508.08 1397.58 L506.91 1397.89 L505.74 1398.19 L504.57 1398.49 L503.4 1398.79 L502.22 1399.08 L501.05 1399.38 L499.88 1399.67 L498.71 1399.97 L497.54 1400.26 L496.37 1400.55 L495.2 1400.84 L494.03 1401.13 L492.85 1401.42 L491.68 1401.71 L490.51 1402 L489.34 1402.28 L488.17 1402.57 L487 1402.85 L485.83 1403.13 L484.65 1403.41 L483.48 1403.69 L482.31 1403.97 L481.14 1404.25 L479.97 1404.53 L478.8 1404.81 L477.63 1405.09 L476.45 1405.36 L475.28 1405.64 L474.11 1405.91Z" fill="#0a22c6"/>
<path d="M513.94 1391.24 L515.11 1390.76 L516.28 1390.27 L517.45 1389.79 L518.62 1389.31 L519.79 1388.83 L520.97 1388.35 L522.14 1387.87 L523.31 1387.4 L524.48 1386.92 L525.65 1386.45 L526.82 1385.98 L527.99 1385.51 L529.17 1385.04 L530.34 1384.57 L531.51 1384.1 L532.68 1383.63 L533.85 1383.17 L535.02 1382.7 L536.19 1382.24 L537.36 1381.77 L538.54 1381.31 L539.71 1380.85 L540.88 1380.39 L542.05 1379.92 L543.22 1379.46 L544.39 1379 L545.56 1378.54 L546.74 1378.08 L547.91 1377.61 L549.08 1377.15 L550.25 1376.69 L551.42 1376.23 L552.59 1375.77 L553.76 1375.3 L554.93 1374.84 L556.11 1374.38 L557.28 1373.91 L558.45 1373.45 L559.62 1372.98 L560.79 1372.51 L561.96 1372.05 L563.13 1371.58 L564.31 1371.11 L565.48 1370.64 L566.65 1370.17 L567.82 1369.7 L568.99 1369.22 L570.16 1368.75 L571.33 1368.27 L572.51 1367.79 L573.68 1367.31 L574.85 1366.83 L576.02 1366.35 L577.19 1365.87 L578.36 1365.38 L579.53 1364.89 L580.7 1364.4 L581.88 1363.91 L583.05 1363.42 L584.22 1362.92 L585.39 1362.42 L586.56 1361.92 L587.73 1361.42 L588.9 1360.91 L590.08 1360.4 L591.25 1359.89 L592.42 1359.38 L593.59 1358.87 L594.76 1358.35 L595.93 1357.83 L597.1 1357.3 L598.27 1356.78 L599.45 1356.25 L600.62 1355.71 L601.79 1355.18 L602.96 1354.64 L604.13 1354.09 L605.3 1353.55 L606.47 1353 L607.65 1352.45 L608.82 1351.89 L609.99 1351.33 L611.16 1350.77 L612.33 1350.2 L613.5 1349.63 L614.67 1349.05 L615.84 1348.47 L617.02 1347.89 L618.19 1347.3 L619.36 1346.71 L620.53 1346.12 L621.7 1345.52 L622.87 1344.91 L624.04 1344.3 L625.22 1343.69 L626.39 1343.07 L627.56 1342.45 L628.73 1341.82 L629.9 1341.19 L631.07 1340.56 L632.24 1339.92 L633.41 1339.27 L634.59 1338.62 L635.76 1337.97 L636.93 1337.31 L638.1 1336.65 L639.27 1335.98 L640.44 1335.31 L641.61 1334.64 L642.79 1333.96 L643.96 1333.27 L645.13 1332.58 L646.3 1331.89 L647.47 1331.19 L648.64 1330.49 L649.81 1329.79 L650.98 1329.07 L652.16 1328.36 L653.33 1327.64 L654.5 1326.92 L655.67 1326.19 L656.84 1325.46 L658.01 1324.72 L659.18 1323.98 L660.36 1323.24 L661.53 1322.49 L662.7 1321.74 L663.87 1320.98 L665.04 1320.22 L666.21 1319.45 L667.38 1318.68 L668.56 1317.91 L669.73 1317.13 L670.9 1316.35 L672.07 1315.56 L673.24 1314.77 L674.41 1313.97 L675.58 1313.17 L676.75 1312.37 L677.93 1311.56 L679.1 1310.75 L680.27 1309.93 L681.44 1309.11 L682.61 1308.29 L683.78 1307.46 L684.95 1306.63 L686.13 1305.79 L687.3 1304.95 L688.47 1304.11 L689.64 1303.26 L690.81 1302.41 L691.98 1301.55 L693.15 1300.69 L694.32 1299.82 L695.5 1298.95 L696.67 1298.08 L697.84 1297.2 L699.01 1296.32 L700.18 1295.44 L701.35 1294.55 L702.52 1293.66 L703.7 1292.76 L704.87 1291.86 L706.04 1290.95 L707.21 1290.04 L708.38 1289.13 L709.55 1288.21 L710.72 1287.29 L711.89 1286.37 L713.07 1285.44 L714.24 1284.51 L715.41 1283.57 L716.58 1282.63 L717.75 1281.69 L718.92 1280.74 L720.09 1279.79 L721.27 1278.83 L722.44 1277.87 L723.61 1276.91 L724.78 1275.94 L725.95 1274.97 L727.12 1273.99 L728.29 1273.01 L729.46 1272.03 L730.64 1271.04 L731.81 1270.05 L732.98 1269.06 L734.15 1268.06 L735.32 1267.06 L736.49 1266.05 L737.66 1265.04 L738.84 1264.03 L740.01 1263.01 L741.18 1262 L742.35 1260.97 L743.52 1259.95 L743.52 1260.67 L742.35 1262.19 L741.18 1263.85 L740.01 1265.68 L738.84 1267.69 L737.66 1269.85 L736.49 1272.11 L735.32 1274.43 L734.15 1276.77 L732.98 1279.07 L731.81 1281.28 L730.64 1283.37 L729.46 1285.31 L728.29 1287.12 L727.12 1288.81 L725.95 1290.38 L724.78 1291.85 L723.61 1293.22 L722.44 1294.5 L721.27 1295.7 L720.09 1296.84 L718.92 1297.91 L717.75 1298.94 L716.58 1299.93 L715.41 1300.88 L714.24 1301.81 L713.07 1302.73 L711.89 1303.63 L710.72 1304.54 L709.55 1305.43 L708.38 1306.32 L707.21 1307.19 L706.04 1308.07 L704.87 1308.93 L703.7 1309.79 L702.52 1310.64 L701.35 1311.48 L700.18 1312.31 L699.01 1313.14 L697.84 1313.96 L696.67 1314.78 L695.5 1315.59 L694.32 1316.39 L693.15 1317.18 L691.98 1317.97 L690.81 1318.75 L689.64 1319.53 L688.47 1320.3 L687.3 1321.06 L686.13 1321.82 L684.95 1322.57 L683.78 1323.31 L682.61 1324.05 L681.44 1324.78 L680.27 1325.5 L679.1 1326.22 L677.93 1326.94 L676.75 1327.65 L675.58 1328.35 L674.41 1329.05 L673.24 1329.74 L672.07 1330.42 L670.9 1331.1 L669.73 1331.78 L668.56 1332.45 L667.38 1333.11 L666.21 1333.77 L665.04 1334.42 L663.87 1335.07 L662.7 1335.71 L661.53 1336.35 L660.36 1336.99 L659.18 1337.61 L658.01 1338.24 L656.84 1338.86 L655.67 1339.47 L654.5 1340.08 L653.33 1340.69 L652.16 1341.29 L650.98 1341.88 L649.81 1342.48 L648.64 1343.06 L647.47 1343.65 L646.3 1344.23 L645.13 1344.8 L643.96 1345.37 L642.79 1345.94 L641.61 1346.5 L640.44 1347.06 L639.27 1347.62 L638.1 1348.17 L636.93 1348.72 L635.76 1349.26 L634.59 1349.8 L633.41 1350.34 L632.24 1350.87 L631.07 1351.4 L629.9 1351.93 L628.73 1352.46 L627.56 1352.98 L626.39 1353.49 L625.22 1354.01 L624.04 1354.52 L622.87 1355.03 L621.7 1355.53 L620.53 1356.04 L619.36 1356.54 L618.19 1357.03 L617.02 1357.53 L615.84 1358.02 L614.67 1358.51 L613.5 1358.99 L612.33 1359.48 L611.16 1359.96 L609.99 1360.43 L608.82 1360.91 L607.65 1361.38 L606.47 1361.85 L605.3 1362.32 L604.13 1362.78 L602.96 1363.24 L601.79 1363.7 L600.62 1364.16 L599.45 1364.61 L598.27 1365.06 L597.1 1365.51 L595.93 1365.96 L594.76 1366.4 L593.59 1366.84 L592.42 1367.28 L591.25 1367.71 L590.08 1368.15 L588.9 1368.58 L587.73 1369.01 L586.56 1369.43 L585.39 1369.86 L584.22 1370.28 L583.05 1370.7 L581.88 1371.11 L580.7 1371.53 L579.53 1371.94 L578.36 1372.35 L577.19 1372.76 L576.02 1373.16 L574.85 1373.56 L573.68 1373.97 L572.51 1374.36 L571.33 1374.76 L570.16 1375.15 L568.99 1375.55 L567.82 1375.94 L566.65 1376.32 L565.48 1376.71 L564.31 1377.09 L563.13 1377.47 L561.96 1377.85 L560.79 1378.23 L559.62 1378.61 L558.45 1378.98 L557.28 1379.35 L556.11 1379.72 L554.93 1380.09 L553.76 1380.45 L552.59 1380.82 L551.42 1381.18 L550.25 1381.54 L549.08 1381.9 L547.91 1382.25 L546.74 1382.61 L545.56 1382.96 L544.39 1383.31 L543.22 1383.66 L542.05 1384.01 L540.88 1384.35 L539.71 1384.7 L538.54 1385.04 L537.36 1385.38 L536.19 1385.72 L535.02 1386.05 L533.85 1386.39 L532.68 1386.72 L531.51 1387.05 L530.34 1387.39 L529.17 1387.71 L527.99 1388.04 L526.82 1388.37 L525.65 1388.69 L524.48 1389.01 L523.31 1389.34 L522.14 1389.66 L520.97 1389.97 L519.79 1390.29 L518.62 1390.61 L517.45 1390.92 L516.28 1391.23 L515.11 1391.54 L513.94 1391.85Z" fill="#55aef8"/>
<path d="M751.72 1252.76 L752.89 1251.74 L754.06 1250.72 L755.23 1249.7 L756.41 1248.68 L757.58 1247.67 L758.75 1246.66 L759.92 1245.65 L761.09 1244.65 L762.26 1243.65 L763.43 1242.66 L764.61 1241.68 L765.78 1240.7 L766.95 1239.73 L768.12 1238.77 L769.29 1237.81 L770.46 1236.87 L771.63 1235.93 L772.8 1235 L773.98 1234.08 L775.15 1233.17 L776.32 1232.27 L777.49 1231.38 L778.66 1230.51 L779.83 1229.64 L781 1228.79 L782.18 1227.95 L783.35 1227.12 L784.52 1226.31 L785.69 1225.51 L786.86 1224.73 L788.03 1223.96 L789.2 1223.21 L790.37 1222.47 L791.55 1221.75 L792.72 1221.04 L793.89 1220.36 L795.06 1219.69 L796.23 1219.04 L797.4 1218.4 L798.57 1217.78 L799.75 1217.18 L800.92 1216.59 L802.09 1216.01 L803.26 1215.45 L804.43 1214.9 L805.6 1214.36 L806.77 1213.83 L807.94 1213.31 L809.12 1212.8 L810.29 1212.3 L811.46 1211.8 L812.63 1211.31 L813.8 1210.83 L814.97 1210.35 L816.14 1209.87 L817.32 1209.4 L818.49 1208.93 L819.66 1208.46 L820.83 1208 L822 1207.53 L823.17 1207.06 L824.34 1206.59 L825.52 1206.12 L826.69 1205.64 L827.86 1205.16 L829.03 1204.68 L830.2 1204.2 L831.37 1203.71 L832.54 1203.23 L833.71 1202.74 L834.89 1202.25 L836.06 1201.75 L837.23 1201.26 L838.4 1200.76 L839.57 1200.27 L840.74 1199.77 L841.91 1199.27 L843.09 1198.77 L844.26 1198.26 L845.43 1197.76 L846.6 1197.26 L847.77 1196.75 L848.94 1196.25 L850.11 1195.74 L851.28 1195.23 L852.46 1194.72 L853.63 1194.22 L854.8 1193.71 L855.97 1193.2 L857.14 1192.69 L858.31 1192.18 L859.48 1191.67 L860.66 1191.16 L861.83 1190.66 L863 1190.15 L864.17 1189.64 L865.34 1189.13 L866.51 1188.63 L867.68 1188.12 L868.85 1187.62 L870.03 1187.11 L871.2 1186.61 L872.37 1186.11 L873.54 1185.61 L874.71 1185.11 L875.88 1184.61 L877.05 1184.12 L878.23 1183.62 L879.4 1183.13 L880.57 1182.64 L881.74 1182.15 L882.91 1181.66 L884.08 1181.18 L885.25 1180.69 L886.42 1180.21 L887.6 1179.74 L888.77 1179.26 L889.94 1178.79 L891.11 1178.31 L892.28 1177.85 L893.45 1177.38 L894.62 1176.92 L895.8 1176.46 L896.97 1176 L898.14 1175.55 L899.31 1175.1 L900.48 1174.65 L901.65 1174.21 L902.82 1173.77 L903.99 1173.33 L905.17 1172.9 L906.34 1172.47 L907.51 1172.05 L908.68 1171.63 L909.85 1171.21 L911.02 1170.8 L912.19 1170.39 L913.37 1169.99 L914.54 1169.59 L915.71 1169.2 L916.88 1168.81 L918.05 1168.42 L919.22 1168.04 L920.39 1167.66 L921.57 1167.29 L922.74 1166.92 L923.91 1166.55 L925.08 1166.19 L926.25 1165.83 L927.42 1165.47 L928.59 1165.12 L929.76 1164.77 L930.94 1164.42 L932.11 1164.08 L933.28 1163.74 L934.45 1163.4 L935.62 1163.06 L936.79 1162.73 L937.96 1162.4 L939.14 1162.07 L940.31 1161.74 L941.48 1161.42 L941.48 1162.03 L940.31 1162.51 L939.14 1162.98 L937.96 1163.45 L936.79 1163.92 L935.62 1164.39 L934.45 1164.86 L933.28 1165.33 L932.11 1165.8 L930.94 1166.26 L929.76 1166.73 L928.59 1167.2 L927.42 1167.66 L926.25 1168.12 L925.08 1168.59 L923.91 1169.05 L922.74 1169.52 L921.57 1169.98 L920.39 1170.44 L919.22 1170.9 L918.05 1171.36 L916.88 1171.82 L915.71 1172.28 L914.54 1172.74 L913.37 1173.2 L912.19 1173.66 L911.02 1174.12 L909.85 1174.57 L908.68 1175.03 L907.51 1175.49 L906.34 1175.95 L905.17 1176.4 L903.99 1176.86 L902.82 1177.32 L901.65 1177.78 L900.48 1178.24 L899.31 1178.69 L898.14 1179.15 L896.97 1179.61 L895.8 1180.07 L894.62 1180.53 L893.45 1181 L892.28 1181.46 L891.11 1181.92 L889.94 1182.39 L888.77 1182.85 L887.6 1183.32 L886.42 1183.79 L885.25 1184.26 L884.08 1184.73 L882.91 1185.2 L881.74 1185.67 L880.57 1186.15 L879.4 1186.62 L878.23 1187.1 L877.05 1187.58 L875.88 1188.06 L874.71 1188.55 L873.54 1189.03 L872.37 1189.52 L871.2 1190.01 L870.03 1190.5 L868.85 1190.99 L867.68 1191.49 L866.51 1191.99 L865.34 1192.49 L864.17 1193 L863 1193.5 L861.83 1194.01 L860.66 1194.52 L859.48 1195.04 L858.31 1195.56 L857.14 1196.08 L855.97 1196.6 L854.8 1197.13 L853.63 1197.66 L852.46 1198.19 L851.28 1198.73 L850.11 1199.27 L848.94 1199.81 L847.77 1200.36 L846.6 1200.91 L845.43 1201.47 L844.26 1202.03 L843.09 1202.59 L841.91 1203.16 L840.74 1203.73 L839.57 1204.3 L838.4 1204.88 L837.23 1205.46 L836.06 1206.05 L834.89 1206.64 L833.71 1207.24 L832.54 1207.84 L831.37 1208.44 L830.2 1209.05 L829.03 1209.67 L827.86 1210.29 L826.69 1210.91 L825.52 1211.54 L824.34 1212.17 L823.17 1212.81 L822 1213.46 L820.83 1214.11 L819.66 1214.76 L818.49 1215.42 L817.32 1216.09 L816.14 1216.76 L814.97 1217.44 L813.8 1218.12 L812.63 1218.81 L811.46 1219.51 L810.29 1220.21 L809.12 1220.92 L807.94 1221.63 L806.77 1222.35 L805.6 1223.08 L804.43 1223.81 L803.26 1224.55 L802.09 1225.3 L800.92 1226.05 L799.75 1226.81 L798.57 1227.58 L797.4 1228.36 L796.23 1229.14 L795.06 1229.93 L793.89 1230.72 L792.72 1231.53 L791.55 1232.34 L790.37 1233.15 L789.2 1233.96 L788.03 1234.77 L786.86 1235.58 L785.69 1236.39 L784.52 1237.19 L783.35 1237.99 L782.18 1238.78 L781 1239.55 L779.83 1240.32 L778.66 1241.07 L777.49 1241.81 L776.32 1242.53 L775.15 1243.23 L773.98 1243.91 L772.8 1244.57 L771.63 1245.21 L770.46 1245.82 L769.29 1246.41 L768.12 1246.96 L766.95 1247.49 L765.78 1247.99 L764.61 1248.45 L763.43 1248.88 L762.26 1249.29 L761.09 1249.68 L759.92 1250.07 L758.75 1250.47 L757.58 1250.88 L756.41 1251.32 L755.23 1251.8 L754.06 1252.32 L752.89 1252.9 L751.72 1253.54Z" fill="#55aef8"/>
<path d="M536.19 1383.64 L537.36 1383.17 L538.54 1382.71 L539.71 1382.25 L540.88 1381.79 L542.05 1381.32 L543.22 1380.86 L544.39 1380.4 L545.56 1379.94 L546.74 1379.48 L547.91 1379.01 L549.08 1378.55 L550.25 1378.09 L551.42 1377.63 L552.59 1377.17 L553.76 1376.7 L554.93 1376.24 L556.11 1375.78 L557.28 1375.31 L558.45 1374.85 L559.62 1374.38 L560.79 1373.91 L561.96 1373.45 L563.13 1372.98 L564.31 1372.51 L565.48 1372.04 L566.65 1371.57 L567.82 1371.1 L568.99 1370.62 L570.16 1370.15 L571.33 1369.67 L572.51 1369.19 L573.68 1368.71 L574.85 1368.23 L576.02 1367.75 L577.19 1367.27 L578.36 1366.78 L579.53 1366.29 L580.7 1365.8 L581.88 1365.31 L583.05 1364.82 L584.22 1364.32 L585.39 1363.82 L586.56 1363.32 L587.73 1362.82 L588.9 1362.31 L590.08 1361.8 L591.25 1361.29 L592.42 1360.78 L593.59 1360.27 L594.76 1359.75 L595.93 1359.23 L597.1 1358.7 L598.27 1358.18 L599.45 1357.65 L600.62 1357.11 L601.79 1356.58 L602.96 1356.04 L604.13 1355.49 L605.3 1354.95 L606.47 1354.4 L607.65 1353.85 L608.82 1353.29 L609.99 1352.73 L611.16 1352.17 L612.33 1351.6 L613.5 1351.03 L614.67 1350.45 L615.84 1349.87 L617.02 1349.29 L618.19 1348.7 L619.36 1348.11 L620.53 1347.52 L621.7 1346.92 L622.87 1346.31 L624.04 1345.7 L625.22 1345.09 L626.39 1344.47 L627.56 1343.85 L628.73 1343.22 L629.9 1342.59 L631.07 1341.96 L632.24 1341.32 L633.41 1340.67 L634.59 1340.02 L635.76 1339.37 L636.93 1338.71 L638.1 1338.05 L639.27 1337.38 L640.44 1336.71 L641.61 1336.04 L642.79 1335.36 L643.96 1334.67 L645.13 1333.98 L646.3 1333.29 L647.47 1332.59 L648.64 1331.89 L649.81 1331.19 L650.98 1330.47 L652.16 1329.76 L653.33 1329.04 L654.5 1328.32 L655.67 1327.59 L656.84 1326.86 L658.01 1326.12 L659.18 1325.38 L660.36 1324.64 L661.53 1323.89 L662.7 1323.14 L663.87 1322.38 L665.04 1321.62 L666.21 1320.85 L667.38 1320.08 L668.56 1319.31 L669.73 1318.53 L670.9 1317.75 L672.07 1316.96 L673.24 1316.17 L674.41 1315.37 L675.58 1314.57 L676.75 1313.77 L677.93 1312.96 L679.1 1312.15 L680.27 1311.33 L681.44 1310.51 L682.61 1309.69 L683.78 1308.86 L684.95 1308.03 L686.13 1307.19 L687.3 1306.35 L688.47 1305.51 L689.64 1304.66 L690.81 1303.81 L691.98 1302.95 L693.15 1302.09 L694.32 1301.22 L695.5 1300.35 L696.67 1299.48 L697.84 1298.6 L699.01 1297.72 L700.18 1296.84 L701.35 1295.95 L702.52 1295.06 L703.7 1294.16 L704.87 1293.26 L706.04 1292.35 L707.21 1291.44 L708.38 1290.53 L709.55 1289.61 L710.72 1288.69 L711.89 1287.77 L713.07 1286.84 L714.24 1285.91 L715.41 1284.97 L716.58 1284.03 L717.75 1283.09 L718.92 1282.14 L720.09 1281.19 L721.27 1280.23 L722.44 1279.27 L723.61 1278.31 L724.78 1277.34 L725.95 1276.37 L727.12 1275.39 L728.29 1274.41 L729.46 1273.43 L730.64 1272.44 L731.81 1271.45 L732.98 1270.46 L734.15 1269.46 L735.32 1268.46 L736.49 1267.45 L737.66 1266.44 L738.84 1265.43 L738.84 1266.29 L737.66 1268.45 L736.49 1270.71 L735.32 1273.03 L734.15 1275.37 L732.98 1277.67 L731.81 1279.88 L730.64 1281.97 L729.46 1283.91 L728.29 1285.72 L727.12 1287.41 L725.95 1288.98 L724.78 1290.45 L723.61 1291.82 L722.44 1293.1 L721.27 1294.3 L720.09 1295.44 L718.92 1296.51 L717.75 1297.54 L716.58 1298.53 L715.41 1299.48 L714.24 1300.41 L713.07 1301.33 L711.89 1302.23 L710.72 1303.14 L709.55 1304.03 L708.38 1304.92 L707.21 1305.79 L706.04 1306.67 L704.87 1307.53 L703.7 1308.39 L702.52 1309.24 L701.35 1310.08 L700.18 1310.91 L699.01 1311.74 L697.84 1312.56 L696.67 1313.38 L695.5 1314.19 L694.32 1314.99 L693.15 1315.78 L691.98 1316.57 L690.81 1317.35 L689.64 1318.13 L688.47 1318.9 L687.3 1319.66 L686.13 1320.42 L684.95 1321.17 L683.78 1321.91 L682.61 1322.65 L681.44 1323.38 L680.27 1324.1 L679.1 1324.82 L677.93 1325.54 L676.75 1326.25 L675.58 1326.95 L674.41 1327.65 L673.24 1328.34 L672.07 1329.02 L670.9 1329.7 L669.73 1330.38 L668.56 1331.05 L667.38 1331.71 L666.21 1332.37 L665.04 1333.02 L663.87 1333.67 L662.7 1334.31 L661.53 1334.95 L660.36 1335.59 L659.18 1336.21 L658.01 1336.84 L656.84 1337.46 L655.67 1338.07 L654.5 1338.68 L653.33 1339.29 L652.16 1339.89 L650.98 1340.48 L649.81 1341.08 L648.64 1341.66 L647.47 1342.25 L646.3 1342.83 L645.13 1343.4 L643.96 1343.97 L642.79 1344.54 L641.61 1345.1 L640.44 1345.66 L639.27 1346.22 L638.1 1346.77 L636.93 1347.32 L635.76 1347.86 L634.59 1348.4 L633.41 1348.94 L632.24 1349.47 L631.07 1350 L629.9 1350.53 L628.73 1351.06 L627.56 1351.58 L626.39 1352.09 L625.22 1352.61 L624.04 1353.12 L622.87 1353.63 L621.7 1354.13 L620.53 1354.64 L619.36 1355.14 L618.19 1355.63 L617.02 1356.13 L615.84 1356.62 L614.67 1357.11 L613.5 1357.59 L612.33 1358.08 L611.16 1358.56 L609.99 1359.03 L608.82 1359.51 L607.65 1359.98 L606.47 1360.45 L605.3 1360.92 L604.13 1361.38 L602.96 1361.84 L601.79 1362.3 L600.62 1362.76 L599.45 1363.21 L598.27 1363.66 L597.1 1364.11 L595.93 1364.56 L594.76 1365 L593.59 1365.44 L592.42 1365.88 L591.25 1366.31 L590.08 1366.75 L588.9 1367.18 L587.73 1367.61 L586.56 1368.03 L585.39 1368.46 L584.22 1368.88 L583.05 1369.3 L581.88 1369.71 L580.7 1370.13 L579.53 1370.54 L578.36 1370.95 L577.19 1371.36 L576.02 1371.76 L574.85 1372.16 L573.68 1372.57 L572.51 1372.96 L571.33 1373.36 L570.16 1373.75 L568.99 1374.15 L567.82 1374.54 L566.65 1374.92 L565.48 1375.31 L564.31 1375.69 L563.13 1376.07 L561.96 1376.45 L560.79 1376.83 L559.62 1377.21 L558.45 1377.58 L557.28 1377.95 L556.11 1378.32 L554.93 1378.69 L553.76 1379.05 L552.59 1379.42 L551.42 1379.78 L550.25 1380.14 L549.08 1380.5 L547.91 1380.85 L546.74 1381.21 L545.56 1381.56 L544.39 1381.91 L543.22 1382.26 L542.05 1382.61 L540.88 1382.95 L539.71 1383.3 L538.54 1383.64 L537.36 1383.98 L536.19 1384.32Z" fill="#36f6f8"/>
<path d="M758.75 1248.06 L759.92 1247.05 L761.09 1246.05 L762.26 1245.05 L763.43 1244.06 L764.61 1243.08 L765.78 1242.1 L766.95 1241.13 L768.12 1240.17 L769.29 1239.21 L770.46 1238.27 L771.63 1237.33 L772.8 1236.4 L773.98 1235.48 L775.15 1234.57 L776.32 1233.67 L777.49 1232.78 L778.66 1231.91 L779.83 1231.04 L781 1230.19 L782.18 1229.35 L783.35 1228.52 L784.52 1227.71 L785.69 1226.91 L786.86 1226.13 L788.03 1225.36 L789.2 1224.61 L790.37 1223.87 L791.55 1223.15 L792.72 1222.44 L793.89 1221.76 L795.06 1221.09 L796.23 1220.44 L797.4 1219.8 L798.57 1219.18 L799.75 1218.58 L800.92 1217.99 L802.09 1217.41 L803.26 1216.85 L804.43 1216.3 L805.6 1215.76 L806.77 1215.23 L807.94 1214.71 L809.12 1214.2 L810.29 1213.7 L811.46 1213.2 L812.63 1212.71 L813.8 1212.23 L814.97 1211.75 L816.14 1211.27 L817.32 1210.8 L818.49 1210.33 L819.66 1209.86 L820.83 1209.4 L822 1208.93 L823.17 1208.46 L824.34 1207.99 L825.52 1207.52 L826.69 1207.04 L827.86 1206.56 L829.03 1206.08 L830.2 1205.6 L831.37 1205.11 L832.54 1204.63 L833.71 1204.14 L834.89 1203.65 L836.06 1203.15 L837.23 1202.66 L838.4 1202.16 L839.57 1201.67 L840.74 1201.17 L841.91 1200.67 L843.09 1200.17 L844.26 1199.66 L845.43 1199.16 L846.6 1198.66 L847.77 1198.15 L848.94 1197.65 L850.11 1197.14 L851.28 1196.63 L852.46 1196.12 L853.63 1195.62 L854.8 1195.11 L855.97 1194.6 L855.97 1195.2 L854.8 1195.73 L853.63 1196.26 L852.46 1196.79 L851.28 1197.33 L850.11 1197.87 L848.94 1198.41 L847.77 1198.96 L846.6 1199.51 L845.43 1200.07 L844.26 1200.63 L843.09 1201.19 L841.91 1201.76 L840.74 1202.33 L839.57 1202.9 L838.4 1203.48 L837.23 1204.06 L836.06 1204.65 L834.89 1205.24 L833.71 1205.84 L832.54 1206.44 L831.37 1207.04 L830.2 1207.65 L829.03 1208.27 L827.86 1208.89 L826.69 1209.51 L825.52 1210.14 L824.34 1210.77 L823.17 1211.41 L822 1212.06 L820.83 1212.71 L819.66 1213.36 L818.49 1214.02 L817.32 1214.69 L816.14 1215.36 L814.97 1216.04 L813.8 1216.72 L812.63 1217.41 L811.46 1218.11 L810.29 1218.81 L809.12 1219.52 L807.94 1220.23 L806.77 1220.95 L805.6 1221.68 L804.43 1222.41 L803.26 1223.15 L802.09 1223.9 L800.92 1224.65 L799.75 1225.41 L798.57 1226.18 L797.4 1226.96 L796.23 1227.74 L795.06 1228.53 L793.89 1229.32 L792.72 1230.13 L791.55 1230.94 L790.37 1231.75 L789.2 1232.56 L788.03 1233.37 L786.86 1234.18 L785.69 1234.99 L784.52 1235.79 L783.35 1236.59 L782.18 1237.38 L781 1238.15 L779.83 1238.92 L778.66 1239.67 L777.49 1240.41 L776.32 1241.13 L775.15 1241.83 L773.98 1242.51 L772.8 1243.17 L771.63 1243.81 L770.46 1244.42 L769.29 1245.01 L768.12 1245.56 L766.95 1246.09 L765.78 1246.59 L764.61 1247.05 L763.43 1247.48 L762.26 1247.89 L761.09 1248.28 L759.92 1248.67 L758.75 1249.07Z" fill="#36f6f8"/>
<path d="M872.37 1187.51 L873.54 1187.01 L874.71 1186.51 L875.88 1186.01 L877.05 1185.52 L878.23 1185.02 L879.4 1184.53 L880.57 1184.04 L881.74 1183.55 L882.91 1183.06 L884.08 1182.58 L885.25 1182.09 L886.42 1181.61 L887.6 1181.14 L888.77 1180.66 L889.94 1180.19 L891.11 1179.71 L892.28 1179.25 L893.45 1178.78 L894.62 1178.32 L895.8 1177.86 L896.97 1177.4 L898.14 1176.95 L899.31 1176.5 L900.48 1176.05 L901.65 1175.61 L902.82 1175.17 L903.99 1174.73 L905.17 1174.3 L906.34 1173.87 L907.51 1173.45 L908.68 1173.03 L908.68 1173.63 L907.51 1174.09 L906.34 1174.55 L905.17 1175 L903.99 1175.46 L902.82 1175.92 L901.65 1176.38 L900.48 1176.84 L899.31 1177.29 L898.14 1177.75 L896.97 1178.21 L895.8 1178.67 L894.62 1179.13 L893.45 1179.6 L892.28 1180.06 L891.11 1180.52 L889.94 1180.99 L888.77 1181.45 L887.6 1181.92 L886.42 1182.39 L885.25 1182.86 L884.08 1183.33 L882.91 1183.8 L881.74 1184.27 L880.57 1184.75 L879.4 1185.22 L878.23 1185.7 L877.05 1186.18 L875.88 1186.66 L874.71 1187.15 L873.54 1187.63 L872.37 1188.12Z" fill="#36f6f8"/>
<path d="M633.41 1344.47 L634.59 1343.82 L635.76 1343.17 L636.93 1342.51 L638.1 1341.85 L639.27 1341.18 L640.44 1340.51 L641.61 1339.84 L642.79 1339.16 L643.96 1338.47 L645.13 1337.78 L646.3 1337.09 L647.47 1336.39 L648.64 1335.69 L649.81 1334.99 L650.98 1334.27 L652.16 1333.56 L653.33 1332.84 L654.5 1332.12 L655.67 1331.39 L656.84 1330.66 L658.01 1329.92 L659.18 1329.18 L660.36 1328.44 L661.53 1327.69 L662.7 1326.94 L663.87 1326.18 L665.04 1325.42 L666.21 1324.65 L667.38 1323.88 L668.56 1323.11 L669.73 1322.33 L670.9 1321.55 L672.07 1320.76 L673.24 1319.97 L674.41 1319.17 L675.58 1318.37 L676.75 1317.57 L677.93 1316.76 L679.1 1315.95 L680.27 1315.13 L681.44 1314.31 L682.61 1313.49 L683.78 1312.66 L684.95 1311.83 L686.13 1310.99 L687.3 1310.15 L688.47 1309.31 L689.64 1308.46 L690.81 1307.61 L691.98 1306.75 L693.15 1305.89 L694.32 1305.02 L695.5 1304.15 L696.67 1303.28 L697.84 1302.4 L699.01 1301.52 L700.18 1300.64 L701.35 1299.75 L702.52 1298.86 L703.7 1297.96 L704.87 1297.06 L706.04 1296.15 L707.21 1295.24 L708.38 1294.33 L709.55 1293.41 L710.72 1292.49 L711.89 1291.57 L713.07 1290.64 L714.24 1289.71 L715.41 1288.77 L716.58 1287.83 L717.75 1286.89 L718.92 1285.94 L720.09 1284.99 L721.27 1284.03 L722.44 1283.07 L723.61 1282.11 L724.78 1281.14 L725.95 1280.17 L727.12 1279.19 L728.29 1278.21 L729.46 1277.23 L730.64 1276.24 L731.81 1275.25 L731.81 1276.08 L730.64 1278.17 L729.46 1280.11 L728.29 1281.92 L727.12 1283.61 L725.95 1285.18 L724.78 1286.65 L723.61 1288.02 L722.44 1289.3 L721.27 1290.5 L720.09 1291.64 L718.92 1292.71 L717.75 1293.74 L716.58 1294.73 L715.41 1295.68 L714.24 1296.61 L713.07 1297.53 L711.89 1298.43 L710.72 1299.34 L709.55 1300.23 L708.38 1301.12 L707.21 1301.99 L706.04 1302.87 L704.87 1303.73 L703.7 1304.59 L702.52 1305.44 L701.35 1306.28 L700.18 1307.11 L699.01 1307.94 L697.84 1308.76 L696.67 1309.58 L695.5 1310.39 L694.32 1311.19 L693.15 1311.98 L691.98 1312.77 L690.81 1313.55 L689.64 1314.33 L688.47 1315.1 L687.3 1315.86 L686.13 1316.62 L684.95 1317.37 L683.78 1318.11 L682.61 1318.85 L681.44 1319.58 L680.27 1320.3 L679.1 1321.02 L677.93 1321.74 L676.75 1322.45 L675.58 1323.15 L674.41 1323.85 L673.24 1324.54 L672.07 1325.22 L670.9 1325.9 L669.73 1326.58 L668.56 1327.25 L667.38 1327.91 L666.21 1328.57 L665.04 1329.22 L663.87 1329.87 L662.7 1330.51 L661.53 1331.15 L660.36 1331.79 L659.18 1332.41 L658.01 1333.04 L656.84 1333.66 L655.67 1334.27 L654.5 1334.88 L653.33 1335.49 L652.16 1336.09 L650.98 1336.68 L649.81 1337.28 L648.64 1337.86 L647.47 1338.45 L646.3 1339.03 L645.13 1339.6 L643.96 1340.17 L642.79 1340.74 L641.61 1341.3 L640.44 1341.86 L639.27 1342.42 L638.1 1342.97 L636.93 1343.52 L635.76 1344.06 L634.59 1344.6 L633.41 1345.14Z" fill="#38f838"/>
<path d="M576.02 1369.45 L577.19 1368.97 L578.36 1368.48 L579.53 1367.99 L580.7 1367.5 L581.88 1367.01 L583.05 1366.52 L584.22 1366.02 L585.39 1365.52 L586.56 1365.02 L587.73 1364.52 L588.9 1364.01 L590.08 1363.5 L591.25 1362.99 L592.42 1362.48 L593.59 1361.97 L594.76 1361.45 L595.93 1360.93 L597.1 1360.4 L598.27 1359.88 L599.45 1359.35 L599.45 1361.51 L598.27 1361.96 L597.1 1362.41 L595.93 1362.86 L594.76 1363.3 L593.59 1363.74 L592.42 1364.18 L591.25 1364.61 L590.08 1365.05 L588.9 1365.48 L587.73 1365.91 L586.56 1366.33 L585.39 1366.76 L584.22 1367.18 L583.05 1367.6 L581.88 1368.01 L580.7 1368.43 L579.53 1368.84 L578.36 1369.25 L577.19 1369.66 L576.02 1370.06Z" fill="#ffffff"/>
<ellipse cx="449" cy="1416" rx="4.5" ry="3" fill="#06168a"/><ellipse cx="1027" cy="1131.3" rx="4.8" ry="2.8" fill="#06168a"/>
<path d="M314.5 1521.64H329M314.5 1397.82H329M314.5 1274H329M314.5 1150.18H329M314.5 1026.36H329M314.5 1583.55H322M314.5 1459.73H322M314.5 1335.91H322M314.5 1212.09H322M314.5 1088.27H322M314.5 964.45H322" stroke="#000" stroke-width="9" fill="none"/>
<path d="M420.38 1614.5V1601M526.25 1614.5V1601M632.12 1614.5V1601M738 1614.5V1601M843.88 1614.5V1601M949.75 1614.5V1601M1055.62 1614.5V1601M367.44 1614.5V1608M473.31 1614.5V1608M579.19 1614.5V1608M685.06 1614.5V1608M790.94 1614.5V1608M896.81 1614.5V1608M1002.69 1614.5V1608M1108.56 1614.5V1608" stroke="#000" stroke-width="9" fill="none"/>
<rect x="1517.5" y="44.5" width="842" height="678" fill="none" stroke="#000" stroke-width="9"/>
<path d="M1522 183.5 L2303 183.5 2304 187.5 L2301.37 188.6 L2298.75 189.7 L2296.12 190.8 L2293.5 191.9 L2290.87 193.01 L2288.25 194.11 L2285.62 195.22 L2283 196.33 L2280.37 197.44 L2277.75 198.54 L2275.12 199.66 L2272.49 200.77 L2269.87 201.88 L2267.24 202.99 L2264.62 204.11 L2261.99 205.23 L2259.37 206.34 L2256.74 207.46 L2254.12 208.59 L2251.49 209.71 L2248.87 210.83 L2246.24 211.96 L2243.62 213.08 L2240.99 214.21 L2238.36 215.34 L2235.74 216.47 L2233.11 217.6 L2230.49 218.74 L2227.86 219.87 L2225.24 221.01 L2222.61 222.15 L2219.99 223.29 L2217.36 224.43 L2214.74 225.58 L2212.11 226.73 L2209.48 227.87 L2206.86 229.02 L2204.23 230.18 L2201.61 231.33 L2198.98 232.49 L2196.36 233.64 L2193.73 234.8 L2191.11 235.96 L2188.48 237.13 L2185.86 238.29 L2183.23 239.46 L2180.61 240.63 L2177.98 241.8 L2175.35 242.98 L2172.73 244.15 L2170.1 245.33 L2167.48 246.51 L2164.85 247.7 L2162.23 248.88 L2159.6 250.07 L2156.98 251.26 L2154.35 252.45 L2151.73 253.65 L2149.1 254.85 L2146.47 256.05 L2143.85 257.25 L2141.22 258.45 L2138.6 259.66 L2135.97 260.87 L2133.35 262.08 L2130.72 263.3 L2128.1 264.52 L2125.47 265.74 L2122.85 266.96 L2120.22 268.19 L2117.6 269.42 L2114.97 270.65 L2112.34 271.88 L2109.72 273.12 L2107.09 274.36 L2104.47 275.6 L2101.84 276.85 L2099.22 278.1 L2096.59 279.35 L2093.97 280.61 L2091.34 281.86 L2088.72 283.12 L2086.09 284.39 L2083.46 285.66 L2080.84 286.93 L2078.21 288.2 L2075.59 289.48 L2072.96 290.76 L2070.34 292.04 L2067.71 293.33 L2065.09 294.62 L2062.46 295.91 L2059.84 297.21 L2057.21 298.51 L2054.59 299.81 L2051.96 301.12 L2049.33 302.43 L2046.71 303.74 L2044.08 305.06 L2041.46 306.38 L2038.83 307.7 L2036.21 309.03 L2033.58 310.36 L2030.96 311.7 L2028.33 313.04 L2025.71 314.38 L2023.08 315.73 L2020.45 317.08 L2017.83 318.43 L2015.2 319.79 L2012.58 321.15 L2009.95 322.51 L2007.33 323.88 L2004.7 325.26 L2002.08 326.63 L1999.45 328.02 L1996.83 329.4 L1994.2 330.79 L1991.58 332.18 L1988.95 333.58 L1986.32 334.98 L1983.7 336.39 L1981.07 337.8 L1978.45 339.21 L1975.82 340.63 L1973.2 342.05 L1970.57 343.48 L1967.95 344.91 L1965.32 346.35 L1962.7 347.78 L1960.07 349.23 L1957.44 350.68 L1954.82 352.13 L1952.19 353.59 L1949.57 355.05 L1946.94 356.52 L1944.32 357.99 L1941.69 359.46 L1939.07 360.94 L1936.44 362.43 L1933.82 363.92 L1931.19 365.41 L1928.57 366.91 L1925.94 368.41 L1923.31 369.92 L1920.69 371.43 L1918.06 372.95 L1915.44 374.48 L1912.81 376 L1910.19 377.54 L1907.56 379.07 L1904.94 380.61 L1902.31 382.16 L1899.69 383.71 L1897.06 385.27 L1894.43 386.83 L1891.81 388.4 L1889.18 389.97 L1886.56 391.55 L1883.93 393.13 L1881.31 394.72 L1878.68 396.32 L1876.06 397.91 L1873.43 399.52 L1870.81 401.13 L1868.18 402.74 L1865.56 404.36 L1862.93 405.99 L1860.3 407.62 L1857.68 409.25 L1855.05 410.89 L1852.43 412.54 L1849.8 414.19 L1847.18 415.85 L1844.55 417.52 L1841.93 419.18 L1839.3 420.86 L1836.68 422.54 L1834.05 424.23 L1831.42 425.92 L1828.8 427.61 L1826.17 429.32 L1823.55 431.03 L1820.92 432.74 L1818.3 434.46 L1815.67 436.19 L1813.05 437.92 L1810.42 439.66 L1807.8 441.4 L1805.17 443.15 L1802.55 444.91 L1799.92 446.67 L1797.29 448.44 L1794.67 450.22 L1792.04 452 L1789.42 453.78 L1786.79 455.58 L1784.17 457.38 L1781.54 459.18 L1778.92 461 L1776.29 462.82 L1773.67 464.64 L1771.04 466.47 L1768.41 468.31 L1765.79 470.16 L1763.16 472.01 L1760.54 473.87 L1757.91 475.74 L1755.29 477.61 L1752.66 479.5 L1750.04 481.38 L1747.41 483.28 L1744.79 485.18 L1742.16 487.09 L1739.54 489.01 L1736.91 490.93 L1734.28 492.87 L1731.66 494.81 L1729.03 496.75 L1726.41 498.71 L1723.78 500.67 L1721.16 502.64 L1718.53 504.62 L1715.91 506.61 L1713.28 508.6 L1710.66 510.6 L1708.03 512.62 L1705.4 514.63 L1702.78 516.66 L1700.15 518.7 L1697.53 520.74 L1694.9 522.79 L1692.28 524.85 L1689.65 526.92 L1687.03 529 L1684.4 531.08 L1681.78 533.18 L1679.15 535.28 L1676.53 537.39 L1673.9 539.51 L1671.27 541.64 L1668.65 543.78 L1666.02 545.93 L1663.4 548.08 L1660.77 550.25 L1658.15 552.42 L1655.52 554.61 L1652.9 556.8 L1650.27 559 L1647.65 561.21 L1645.02 563.43 L1642.39 565.66 L1639.77 567.89 L1637.14 570.14 L1634.52 572.39 L1631.89 574.66 L1629.27 576.93 L1626.64 579.21 L1624.02 581.5 L1621.39 583.79 L1618.77 586.1 L1616.14 588.41 L1613.52 590.73 L1610.89 593.06 L1608.26 595.39 L1605.64 597.74 L1603.01 600.09 L1600.39 602.45 L1597.76 604.81 L1595.14 607.19 L1592.51 609.57 L1589.89 611.96 L1587.26 614.36 L1584.64 616.76 L1582.01 619.17 L1579.38 621.59 L1576.76 624.01 L1574.13 626.44 L1571.51 628.88 L1568.88 631.33 L1566.26 633.78 L1563.63 636.23 L1561.01 638.69 L1558.38 641.16 L1555.76 643.64 L1553.13 646.11 L1550.51 648.6 L1547.88 651.09 L1545.25 653.59 L1542.63 656.09 L1540 658.59 L1537.38 661.1 L1534.75 663.62 L1532.13 666.14 L1529.5 668.67 L1526.88 671.19 L1524.25 673.73 L1521.63 676.27 L1519 678.81 L1522 678.81Z" fill="url(#gb)"/>
<path d="M1519 678.81 L1521.63 676.27 L1524.25 673.73 L1526.88 671.19 L1529.5 668.67 L1532.13 666.14 L1534.75 663.62 L1537.38 661.1 L1540 658.59 L1542.63 656.09 L1545.25 653.59 L1547.88 651.09 L1550.51 648.6 L1553.13 646.11 L1555.76 643.64 L1558.38 641.16 L1561.01 638.69 L1563.63 636.23 L1566.26 633.78 L1568.88 631.33 L1571.51 628.88 L1574.13 626.44 L1576.76 624.01 L1579.38 621.59 L1582.01 619.17 L1584.64 616.76 L1587.26 614.36 L1589.89 611.96 L1592.51 609.57 L1595.14 607.19 L1597.76 604.81 L1600.39 602.45 L1603.01 600.09 L1605.64 597.74 L1608.26 595.39 L1610.89 593.06 L1613.52 590.73 L1616.14 588.41 L1618.77 586.1 L1621.39 583.79 L1624.02 581.5 L1626.64 579.21 L1629.27 576.93 L1631.89 574.66 L1634.52 572.39 L1637.14 570.14 L1639.77 567.89 L1642.39 565.66 L1645.02 563.43 L1647.65 561.21 L1650.27 559 L1652.9 556.8 L1655.52 554.61 L1658.15 552.42 L1660.77 550.25 L1663.4 548.08 L1666.02 545.93 L1668.65 543.78 L1671.27 541.64 L1673.9 539.51 L1676.53 537.39 L1679.15 535.28 L1681.78 533.18 L1684.4 531.08 L1687.03 529 L1689.65 526.92 L1692.28 524.85 L1694.9 522.79 L1697.53 520.74 L1700.15 518.7 L1702.78 516.66 L1705.4 514.63 L1708.03 512.62 L1710.66 510.6 L1713.28 508.6 L1715.91 506.61 L1718.53 504.62 L1721.16 502.64 L1723.78 500.67 L1726.41 498.71 L1729.03 496.75 L1731.66 494.81 L1734.28 492.87 L1736.91 490.93 L1739.54 489.01 L1742.16 487.09 L1744.79 485.18 L1747.41 483.28 L1750.04 481.38 L1752.66 479.5 L1755.29 477.61 L1757.91 475.74 L1760.54 473.87 L1763.16 472.01 L1765.79 470.16 L1768.41 468.31 L1771.04 466.47 L1773.67 464.64 L1776.29 462.82 L1778.92 461 L1781.54 459.18 L1784.17 457.38 L1786.79 455.58 L1789.42 453.78 L1792.04 452 L1794.67 450.22 L1797.29 448.44 L1799.92 446.67 L1802.55 444.91 L1805.17 443.15 L1807.8 441.4 L1810.42 439.66 L1813.05 437.92 L1815.67 436.19 L1818.3 434.46 L1820.92 432.74 L1823.55 431.03 L1826.17 429.32 L1828.8 427.61 L1831.42 425.92 L1834.05 424.23 L1836.68 422.54 L1839.3 420.86 L1841.93 419.18 L1844.55 417.52 L1847.18 415.85 L1849.8 414.19 L1852.43 412.54 L1855.05 410.89 L1857.68 409.25 L1860.3 407.62 L1862.93 405.99 L1865.56 404.36 L1868.18 402.74 L1870.81 401.13 L1873.43 399.52 L1876.06 397.91 L1878.68 396.32 L1881.31 394.72 L1883.93 393.13 L1886.56 391.55 L1889.18 389.97 L1891.81 388.4 L1894.43 386.83 L1897.06 385.27 L1899.69 383.71 L1902.31 382.16 L1904.94 380.61 L1907.56 379.07 L1910.19 377.54 L1912.81 376 L1915.44 374.48 L1918.06 372.95 L1920.69 371.43 L1923.31 369.92 L1925.94 368.41 L1928.57 366.91 L1931.19 365.41 L1933.82 363.92 L1936.44 362.43 L1939.07 360.94 L1941.69 359.46 L1944.32 357.99 L1946.94 356.52 L1949.57 355.05 L1952.19 353.59 L1954.82 352.13 L1957.44 350.68 L1960.07 349.23 L1962.7 347.78 L1965.32 346.35 L1967.95 344.91 L1970.57 343.48 L1973.2 342.05 L1975.82 340.63 L1978.45 339.21 L1981.07 337.8 L1983.7 336.39 L1986.32 334.98 L1988.95 333.58 L1991.58 332.18 L1994.2 330.79 L1996.83 329.4 L1999.45 328.02 L2002.08 326.63 L2004.7 325.26 L2007.33 323.88 L2009.95 322.51 L2012.58 321.15 L2015.2 319.79 L2017.83 318.43 L2020.45 317.08 L2023.08 315.73 L2025.71 314.38 L2028.33 313.04 L2030.96 311.7 L2033.58 310.36 L2036.21 309.03 L2038.83 307.7 L2041.46 306.38 L2044.08 305.06 L2046.71 303.74 L2049.33 302.43 L2051.96 301.12 L2054.59 299.81 L2057.21 298.51 L2059.84 297.21 L2062.46 295.91 L2065.09 294.62 L2067.71 293.33 L2070.34 292.04 L2072.96 290.76 L2075.59 289.48 L2078.21 288.2 L2080.84 286.93 L2083.46 285.66 L2086.09 284.39 L2088.72 283.12 L2091.34 281.86 L2093.97 280.61 L2096.59 279.35 L2099.22 278.1 L2101.84 276.85 L2104.47 275.6 L2107.09 274.36 L2109.72 273.12 L2112.34 271.88 L2114.97 270.65 L2117.6 269.42 L2120.22 268.19 L2122.85 266.96 L2125.47 265.74 L2128.1 264.52 L2130.72 263.3 L2133.35 262.08 L2135.97 260.87 L2138.6 259.66 L2141.22 258.45 L2143.85 257.25 L2146.47 256.05 L2149.1 254.85 L2151.73 253.65 L2154.35 252.45 L2156.98 251.26 L2159.6 250.07 L2162.23 248.88 L2164.85 247.7 L2167.48 246.51 L2170.1 245.33 L2172.73 244.15 L2175.35 242.98 L2177.98 241.8 L2180.61 240.63 L2183.23 239.46 L2185.86 238.29 L2188.48 237.13 L2191.11 235.96 L2193.73 234.8 L2196.36 233.64 L2198.98 232.49 L2201.61 231.33 L2204.23 230.18 L2206.86 229.02 L2209.48 227.87 L2212.11 226.73 L2214.74 225.58 L2217.36 224.43 L2219.99 223.29 L2222.61 222.15 L2225.24 221.01 L2227.86 219.87 L2230.49 218.74 L2233.11 217.6 L2235.74 216.47 L2238.36 215.34 L2240.99 214.21 L2243.62 213.08 L2246.24 211.96 L2248.87 210.83 L2251.49 209.71 L2254.12 208.59 L2256.74 207.46 L2259.37 206.34 L2261.99 205.23 L2264.62 204.11 L2267.24 202.99 L2269.87 201.88 L2272.49 200.77 L2275.12 199.66 L2277.75 198.54 L2280.37 197.44 L2283 196.33 L2285.62 195.22 L2288.25 194.11 L2290.87 193.01 L2293.5 191.9 L2296.12 190.8 L2298.75 189.7 L2301.37 188.6 L2304 187.5" fill="none" stroke="#020e80" stroke-width="9" stroke-linejoin="round"/>
<path d="M1519 720.99 L1521.63 718.09 L1524.25 715.23 L1526.88 712.39 L1529.5 709.58 L1532.13 706.81 L1534.75 704.06 L1537.38 701.34 L1540 698.65 L1542.63 695.98 L1545.25 693.35 L1547.88 690.74 L1550.51 688.15 L1553.13 685.59 L1555.76 683.05 L1558.38 680.54 L1561.01 678.05 L1563.63 675.59 L1566.26 673.15 L1568.88 670.73 L1571.51 668.33 L1574.13 665.95 L1576.76 663.59 L1579.38 661.25 L1582.01 658.93 L1584.64 656.63 L1587.26 654.35 L1589.89 652.09 L1592.51 649.84 L1595.14 647.62 L1597.76 645.4 L1600.39 643.21 L1603.01 641.03 L1605.64 638.87 L1608.26 636.72 L1610.89 634.58 L1613.52 632.47 L1616.14 630.36 L1618.77 628.27 L1621.39 626.19 L1624.02 624.12 L1626.64 622.07 L1629.27 620.03 L1631.89 618 L1634.52 615.98 L1637.14 613.97 L1639.77 611.97 L1642.39 609.98 L1645.02 608 L1647.65 606.03 L1650.27 604.06 L1652.9 602.11 L1655.52 600.16 L1658.15 598.22 L1660.77 596.29 L1663.4 594.36 L1666.02 592.44 L1668.65 590.52 L1671.27 588.61 L1673.9 586.71 L1676.53 584.81 L1679.15 582.91 L1681.78 581.02 L1684.4 579.13 L1687.03 577.24 L1689.65 575.35 L1692.28 573.47 L1694.9 571.59 L1697.53 569.71 L1700.15 567.83 L1702.78 565.96 L1705.4 564.08 L1708.03 562.21 L1710.66 560.33 L1713.28 558.45 L1715.91 556.58 L1718.53 554.7 L1721.16 552.82 L1723.78 550.94 L1726.41 549.06 L1729.03 547.17 L1731.66 545.28 L1734.28 543.39 L1736.91 541.5 L1739.54 539.6 L1742.16 537.7 L1744.79 535.79 L1747.41 533.88 L1750.04 531.97 L1752.66 530.05 L1755.29 528.13 L1757.91 526.2 L1760.54 524.27 L1763.16 522.34 L1765.79 520.41 L1768.41 518.48 L1771.04 516.54 L1773.67 514.61 L1776.29 512.67 L1778.92 510.74 L1781.54 508.8 L1784.17 506.86 L1786.79 504.93 L1789.42 502.99 L1792.04 501.06 L1794.67 499.13 L1797.29 497.2 L1799.92 495.27 L1802.55 493.35 L1805.17 491.43 L1807.8 489.51 L1810.42 487.59 L1813.05 485.68 L1815.67 483.78 L1818.3 481.87 L1820.92 479.98 L1823.55 478.09 L1826.17 476.2 L1828.8 474.32 L1831.42 472.45 L1834.05 470.58 L1836.68 468.72 L1839.3 466.87 L1841.93 465.03 L1844.55 463.19 L1847.18 461.36 L1849.8 459.55 L1852.43 457.73 L1855.05 455.93 L1857.68 454.14 L1860.3 452.35 L1862.93 450.57 L1865.56 448.8 L1868.18 447.04 L1870.81 445.29 L1873.43 443.54 L1876.06 441.8 L1878.68 440.07 L1881.31 438.34 L1883.93 436.63 L1886.56 434.92 L1889.18 433.21 L1891.81 431.51 L1894.43 429.82 L1897.06 428.14 L1899.69 426.46 L1902.31 424.79 L1904.94 423.12 L1907.56 421.46 L1910.19 419.81 L1912.81 418.16 L1915.44 416.51 L1918.06 414.88 L1920.69 413.24 L1923.31 411.62 L1925.94 410 L1928.57 408.38 L1931.19 406.77 L1933.82 405.16 L1936.44 403.55 L1939.07 401.96 L1941.69 400.36 L1944.32 398.77 L1946.94 397.18 L1949.57 395.6 L1952.19 394.02 L1954.82 392.45 L1957.44 390.88 L1960.07 389.31 L1962.7 387.75 L1965.32 386.18 L1967.95 384.63 L1970.57 383.07 L1973.2 381.52 L1975.82 379.97 L1978.45 378.42 L1981.07 376.88 L1983.7 375.33 L1986.32 373.79 L1988.95 372.26 L1991.58 370.72 L1994.2 369.19 L1996.83 367.65 L1999.45 366.12 L2002.08 364.59 L2004.7 363.06 L2007.33 361.54 L2009.95 360.01 L2012.58 358.49 L2015.2 356.96 L2017.83 355.44 L2020.45 353.92 L2023.08 352.39 L2025.71 350.87 L2028.33 349.35 L2030.96 347.83 L2033.58 346.31 L2036.21 344.78 L2038.83 343.26 L2041.46 341.74 L2044.08 340.22 L2046.71 338.69 L2049.33 337.17 L2051.96 335.64 L2054.59 334.11 L2057.21 332.59 L2059.84 331.06 L2062.46 329.53 L2065.09 328 L2067.71 326.46 L2070.34 324.93 L2072.96 323.39 L2075.59 321.85 L2078.21 320.31 L2080.84 318.76 L2083.46 317.22 L2086.09 315.67 L2088.72 314.12 L2091.34 312.56 L2093.97 311.01 L2096.59 309.45 L2099.22 307.88 L2101.84 306.32 L2104.47 304.75 L2107.09 303.18 L2109.72 301.6 L2112.34 300.02 L2114.97 298.44 L2117.6 296.86 L2120.22 295.28 L2122.85 293.69 L2125.47 292.11 L2128.1 290.52 L2130.72 288.93 L2133.35 287.34 L2135.97 285.74 L2138.6 284.15 L2141.22 282.56 L2143.85 280.96 L2146.47 279.37 L2149.1 277.77 L2151.73 276.18 L2154.35 274.59 L2156.98 272.99 L2159.6 271.4 L2162.23 269.81 L2164.85 268.22 L2167.48 266.63 L2170.1 265.04 L2172.73 263.45 L2175.35 261.87 L2177.98 260.29 L2180.61 258.7 L2183.23 257.13 L2185.86 255.55 L2188.48 253.98 L2191.11 252.41 L2193.73 250.84 L2196.36 249.27 L2198.98 247.71 L2201.61 246.15 L2204.23 244.6 L2206.86 243.05 L2209.48 241.5 L2212.11 239.96 L2214.74 238.42 L2217.36 236.89 L2219.99 235.36 L2222.61 233.84 L2225.24 232.32 L2227.86 230.8 L2230.49 229.3 L2233.11 227.79 L2235.74 226.3 L2238.36 224.81 L2240.99 223.32 L2243.62 221.84 L2246.24 220.37 L2248.87 218.91 L2251.49 217.45 L2254.12 216 L2256.74 214.56 L2259.37 213.12 L2261.99 211.69 L2264.62 210.27 L2267.24 208.86 L2269.87 207.45 L2272.49 206.05 L2275.12 204.67 L2277.75 203.29 L2280.37 201.92 L2283 200.55 L2285.62 199.2 L2288.25 197.86 L2290.87 196.52 L2293.5 195.2 L2296.12 193.88 L2298.75 192.58 L2301.37 191.29 L2304 190" fill="none" stroke="#020e80" stroke-width="9" stroke-linejoin="round"/>
<rect x="1681.5" y="516" width="13" height="20" rx="4" fill="#020e80"/>
<rect x="1811.5" y="426.5" width="9" height="17" rx="4" fill="#020e80"/>
<rect x="1994" y="319" width="13" height="19" rx="4" fill="#020e80"/>
<rect x="2140" y="245" width="12" height="13" rx="4" fill="#020e80"/>
<rect x="1684" y="565" width="13" height="22" rx="4" fill="#020e80"/>
<rect x="1810.5" y="476" width="13" height="12" rx="4" fill="#020e80"/>
<rect x="1995.5" y="352.4" width="10" height="26" rx="4" fill="#020e80"/>
<rect x="2140.2" y="266" width="15" height="22" rx="4" fill="#020e80"/>
<rect x="2300" y="182" width="10" height="16" rx="4" fill="#020e80"/>
<path d="M1518 183.5H2303" stroke="#020e80" stroke-width="9.4" stroke-linecap="round" stroke-dasharray="35.3 49.5"/>
<path d="M1517.5 599.23H1531M1517.5 475.95H1531M1517.5 352.68H1531M1517.5 229.41H1531M1517.5 106.14H1531M1517.5 660.86H1525M1517.5 537.59H1525M1517.5 414.32H1525M1517.5 291.05H1525M1517.5 167.77H1525" stroke="#000" stroke-width="9" fill="none"/>
<path d="M1647.04 722.5V709M1776.58 722.5V709M1906.12 722.5V709M2035.65 722.5V709M2165.19 722.5V709M2294.73 722.5V709M1582.27 722.5V716M1711.81 722.5V716M1841.35 722.5V716M1970.88 722.5V716M2100.42 722.5V716M2229.96 722.5V716" stroke="#000" stroke-width="9" fill="none"/>
<rect x="1517.5" y="932.5" width="840" height="676" fill="none" stroke="#000" stroke-width="9"/>
<path d="M1522 1040.3 L2229 1040.3 2227 1043.01 L2224.63 1043.98 L2222.27 1044.94 L2219.9 1045.91 L2217.54 1046.88 L2215.17 1047.85 L2212.8 1048.82 L2210.44 1049.78 L2208.07 1050.75 L2205.7 1051.72 L2203.34 1052.69 L2200.97 1053.66 L2198.61 1054.62 L2196.24 1055.59 L2193.87 1056.56 L2191.51 1057.53 L2189.14 1058.5 L2186.77 1059.47 L2184.41 1060.44 L2182.04 1061.41 L2179.68 1062.38 L2177.31 1063.35 L2174.94 1064.33 L2172.58 1065.3 L2170.21 1066.27 L2167.84 1067.25 L2165.48 1068.22 L2163.11 1069.2 L2160.75 1070.18 L2158.38 1071.16 L2156.01 1072.14 L2153.65 1073.12 L2151.28 1074.1 L2148.91 1075.08 L2146.55 1076.07 L2144.18 1077.05 L2141.82 1078.04 L2139.45 1079.03 L2137.08 1080.02 L2134.72 1081.01 L2132.35 1082.01 L2129.98 1083 L2127.62 1084 L2125.25 1085 L2122.89 1086 L2120.52 1087 L2118.15 1088 L2115.79 1089.01 L2113.42 1090.01 L2111.06 1091.02 L2108.69 1092.04 L2106.32 1093.05 L2103.96 1094.07 L2101.59 1095.08 L2099.22 1096.1 L2096.86 1097.13 L2094.49 1098.15 L2092.13 1099.18 L2089.76 1100.21 L2087.39 1101.24 L2085.03 1102.28 L2082.66 1103.32 L2080.29 1104.36 L2077.93 1105.4 L2075.56 1106.45 L2073.2 1107.49 L2070.83 1108.55 L2068.46 1109.6 L2066.1 1110.66 L2063.73 1111.72 L2061.36 1112.78 L2059 1113.85 L2056.63 1114.92 L2054.27 1115.99 L2051.9 1117.07 L2049.53 1118.15 L2047.17 1119.23 L2044.8 1120.32 L2042.43 1121.41 L2040.07 1122.5 L2037.7 1123.6 L2035.34 1124.7 L2032.97 1125.8 L2030.6 1126.91 L2028.24 1128.02 L2025.87 1129.13 L2023.51 1130.25 L2021.14 1131.38 L2018.77 1132.5 L2016.41 1133.63 L2014.04 1134.77 L2011.67 1135.91 L2009.31 1137.05 L2006.94 1138.2 L2004.58 1139.35 L2002.21 1140.51 L1999.84 1141.67 L1997.48 1142.83 L1995.11 1144 L1992.74 1145.18 L1990.38 1146.35 L1988.01 1147.54 L1985.65 1148.72 L1983.28 1149.92 L1980.91 1151.11 L1978.55 1152.32 L1976.18 1153.52 L1973.81 1154.73 L1971.45 1155.95 L1969.08 1157.17 L1966.72 1158.4 L1964.35 1159.63 L1961.98 1160.87 L1959.62 1162.11 L1957.25 1163.36 L1954.88 1164.61 L1952.52 1165.87 L1950.15 1167.13 L1947.79 1168.4 L1945.42 1169.67 L1943.05 1170.95 L1940.69 1172.24 L1938.32 1173.53 L1935.95 1174.83 L1933.59 1176.13 L1931.22 1177.44 L1928.86 1178.75 L1926.49 1180.07 L1924.12 1181.4 L1921.76 1182.73 L1919.39 1184.06 L1917.03 1185.41 L1914.66 1186.76 L1912.29 1188.12 L1909.93 1189.48 L1907.56 1190.85 L1905.19 1192.22 L1902.83 1193.6 L1900.46 1194.99 L1898.1 1196.39 L1895.73 1197.79 L1893.36 1199.19 L1891 1200.61 L1888.63 1202.03 L1886.26 1203.46 L1883.9 1204.89 L1881.53 1206.33 L1879.17 1207.78 L1876.8 1209.23 L1874.43 1210.7 L1872.07 1212.17 L1869.7 1213.64 L1867.33 1215.12 L1864.97 1216.62 L1862.6 1218.11 L1860.24 1219.62 L1857.87 1221.13 L1855.5 1222.65 L1853.14 1224.18 L1850.77 1225.71 L1848.4 1227.25 L1846.04 1228.8 L1843.67 1230.36 L1841.31 1231.92 L1838.94 1233.5 L1836.57 1235.08 L1834.21 1236.67 L1831.84 1238.26 L1829.47 1239.87 L1827.11 1241.48 L1824.74 1243.1 L1822.38 1244.73 L1820.01 1246.36 L1817.64 1248.01 L1815.28 1249.66 L1812.91 1251.32 L1810.55 1252.99 L1808.18 1254.67 L1805.81 1256.35 L1803.45 1258.05 L1801.08 1259.75 L1798.71 1261.46 L1796.35 1263.18 L1793.98 1264.91 L1791.62 1266.65 L1789.25 1268.39 L1786.88 1270.15 L1784.52 1271.91 L1782.15 1273.69 L1779.78 1275.47 L1777.42 1277.26 L1775.05 1279.06 L1772.69 1280.87 L1770.32 1282.69 L1767.95 1284.51 L1765.59 1286.35 L1763.22 1288.2 L1760.85 1290.05 L1758.49 1291.92 L1756.12 1293.79 L1753.76 1295.67 L1751.39 1297.57 L1749.02 1299.47 L1746.66 1301.38 L1744.29 1303.3 L1741.92 1305.24 L1739.56 1307.18 L1737.19 1309.13 L1734.83 1311.09 L1732.46 1313.06 L1730.09 1315.04 L1727.73 1317.04 L1725.36 1319.04 L1722.99 1321.05 L1720.63 1323.07 L1718.26 1325.1 L1715.9 1327.15 L1713.53 1329.2 L1711.16 1331.26 L1708.8 1333.34 L1706.43 1335.42 L1704.07 1337.52 L1701.7 1339.62 L1699.33 1341.74 L1696.97 1343.87 L1694.6 1346 L1692.23 1348.15 L1689.87 1350.31 L1687.5 1352.48 L1685.14 1354.66 L1682.77 1356.85 L1680.4 1359.06 L1678.04 1361.27 L1675.67 1363.5 L1673.3 1365.73 L1670.94 1367.98 L1668.57 1370.24 L1666.21 1372.51 L1663.84 1374.79 L1661.47 1377.09 L1659.11 1379.39 L1656.74 1381.71 L1654.37 1384.04 L1652.01 1386.37 L1649.64 1388.73 L1647.28 1391.09 L1644.91 1393.46 L1642.54 1395.85 L1640.18 1398.25 L1637.81 1400.66 L1635.44 1403.08 L1633.08 1405.52 L1630.71 1407.96 L1628.35 1410.42 L1625.98 1412.89 L1623.61 1415.38 L1621.25 1417.87 L1618.88 1420.38 L1616.52 1422.9 L1614.15 1425.43 L1611.78 1427.98 L1609.42 1430.54 L1607.05 1433.11 L1604.68 1435.69 L1602.32 1438.28 L1599.95 1440.89 L1597.59 1443.51 L1595.22 1446.15 L1592.85 1448.8 L1590.49 1451.45 L1588.12 1454.13 L1585.75 1456.81 L1583.39 1459.51 L1581.02 1462.22 L1578.66 1464.95 L1576.29 1467.69 L1573.92 1470.44 L1571.56 1473.21 L1569.19 1475.98 L1566.82 1478.78 L1564.46 1481.58 L1562.09 1484.4 L1559.73 1487.23 L1557.36 1490.08 L1554.99 1492.94 L1552.63 1495.81 L1550.26 1498.7 L1547.89 1501.6 L1545.53 1504.51 L1543.16 1507.44 L1540.8 1510.39 L1538.43 1513.34 L1536.06 1516.31 L1533.7 1519.3 L1531.33 1522.3 L1528.96 1525.31 L1526.6 1528.34 L1524.23 1531.38 L1521.87 1534.44 L1519.5 1537.51 L1522 1537.51Z" fill="url(#gd)"/>
<path d="M1519.5 1537.51 L1521.87 1534.44 L1524.23 1531.38 L1526.6 1528.34 L1528.96 1525.31 L1531.33 1522.3 L1533.7 1519.3 L1536.06 1516.31 L1538.43 1513.34 L1540.8 1510.39 L1543.16 1507.44 L1545.53 1504.51 L1547.89 1501.6 L1550.26 1498.7 L1552.63 1495.81 L1554.99 1492.94 L1557.36 1490.08 L1559.73 1487.23 L1562.09 1484.4 L1564.46 1481.58 L1566.82 1478.78 L1569.19 1475.98 L1571.56 1473.21 L1573.92 1470.44 L1576.29 1467.69 L1578.66 1464.95 L1581.02 1462.22 L1583.39 1459.51 L1585.75 1456.81 L1588.12 1454.13 L1590.49 1451.45 L1592.85 1448.8 L1595.22 1446.15 L1597.59 1443.51 L1599.95 1440.89 L1602.32 1438.28 L1604.68 1435.69 L1607.05 1433.11 L1609.42 1430.54 L1611.78 1427.98 L1614.15 1425.43 L1616.52 1422.9 L1618.88 1420.38 L1621.25 1417.87 L1623.61 1415.38 L1625.98 1412.89 L1628.35 1410.42 L1630.71 1407.96 L1633.08 1405.52 L1635.44 1403.08 L1637.81 1400.66 L1640.18 1398.25 L1642.54 1395.85 L1644.91 1393.46 L1647.28 1391.09 L1649.64 1388.73 L1652.01 1386.37 L1654.37 1384.04 L1656.74 1381.71 L1659.11 1379.39 L1661.47 1377.09 L1663.84 1374.79 L1666.21 1372.51 L1668.57 1370.24 L1670.94 1367.98 L1673.3 1365.73 L1675.67 1363.5 L1678.04 1361.27 L1680.4 1359.06 L1682.77 1356.85 L1685.14 1354.66 L1687.5 1352.48 L1689.87 1350.31 L1692.23 1348.15 L1694.6 1346 L1696.97 1343.87 L1699.33 1341.74 L1701.7 1339.62 L1704.07 1337.52 L1706.43 1335.42 L1708.8 1333.34 L1711.16 1331.26 L1713.53 1329.2 L1715.9 1327.15 L1718.26 1325.1 L1720.63 1323.07 L1722.99 1321.05 L1725.36 1319.04 L1727.73 1317.04 L1730.09 1315.04 L1732.46 1313.06 L1734.83 1311.09 L1737.19 1309.13 L1739.56 1307.18 L1741.92 1305.24 L1744.29 1303.3 L1746.66 1301.38 L1749.02 1299.47 L1751.39 1297.57 L1753.76 1295.67 L1756.12 1293.79 L1758.49 1291.92 L1760.85 1290.05 L1763.22 1288.2 L1765.59 1286.35 L1767.95 1284.51 L1770.32 1282.69 L1772.69 1280.87 L1775.05 1279.06 L1777.42 1277.26 L1779.78 1275.47 L1782.15 1273.69 L1784.52 1271.91 L1786.88 1270.15 L1789.25 1268.39 L1791.62 1266.65 L1793.98 1264.91 L1796.35 1263.18 L1798.71 1261.46 L1801.08 1259.75 L1803.45 1258.05 L1805.81 1256.35 L1808.18 1254.67 L1810.55 1252.99 L1812.91 1251.32 L1815.28 1249.66 L1817.64 1248.01 L1820.01 1246.36 L1822.38 1244.73 L1824.74 1243.1 L1827.11 1241.48 L1829.47 1239.87 L1831.84 1238.26 L1834.21 1236.67 L1836.57 1235.08 L1838.94 1233.5 L1841.31 1231.92 L1843.67 1230.36 L1846.04 1228.8 L1848.4 1227.25 L1850.77 1225.71 L1853.14 1224.18 L1855.5 1222.65 L1857.87 1221.13 L1860.24 1219.62 L1862.6 1218.11 L1864.97 1216.62 L1867.33 1215.12 L1869.7 1213.64 L1872.07 1212.17 L1874.43 1210.7 L1876.8 1209.23 L1879.17 1207.78 L1881.53 1206.33 L1883.9 1204.89 L1886.26 1203.46 L1888.63 1202.03 L1891 1200.61 L1893.36 1199.19 L1895.73 1197.79 L1898.1 1196.39 L1900.46 1194.99 L1902.83 1193.6 L1905.19 1192.22 L1907.56 1190.85 L1909.93 1189.48 L1912.29 1188.12 L1914.66 1186.76 L1917.03 1185.41 L1919.39 1184.06 L1921.76 1182.73 L1924.12 1181.4 L1926.49 1180.07 L1928.86 1178.75 L1931.22 1177.44 L1933.59 1176.13 L1935.95 1174.83 L1938.32 1173.53 L1940.69 1172.24 L1943.05 1170.95 L1945.42 1169.67 L1947.79 1168.4 L1950.15 1167.13 L1952.52 1165.87 L1954.88 1164.61 L1957.25 1163.36 L1959.62 1162.11 L1961.98 1160.87 L1964.35 1159.63 L1966.72 1158.4 L1969.08 1157.17 L1971.45 1155.95 L1973.81 1154.73 L1976.18 1153.52 L1978.55 1152.32 L1980.91 1151.11 L1983.28 1149.92 L1985.65 1148.72 L1988.01 1147.54 L1990.38 1146.35 L1992.74 1145.18 L1995.11 1144 L1997.48 1142.83 L1999.84 1141.67 L2002.21 1140.51 L2004.58 1139.35 L2006.94 1138.2 L2009.31 1137.05 L2011.67 1135.91 L2014.04 1134.77 L2016.41 1133.63 L2018.77 1132.5 L2021.14 1131.38 L2023.51 1130.25 L2025.87 1129.13 L2028.24 1128.02 L2030.6 1126.91 L2032.97 1125.8 L2035.34 1124.7 L2037.7 1123.6 L2040.07 1122.5 L2042.43 1121.41 L2044.8 1120.32 L2047.17 1119.23 L2049.53 1118.15 L2051.9 1117.07 L2054.27 1115.99 L2056.63 1114.92 L2059 1113.85 L2061.36 1112.78 L2063.73 1111.72 L2066.1 1110.66 L2068.46 1109.6 L2070.83 1108.55 L2073.2 1107.49 L2075.56 1106.45 L2077.93 1105.4 L2080.29 1104.36 L2082.66 1103.32 L2085.03 1102.28 L2087.39 1101.24 L2089.76 1100.21 L2092.13 1099.18 L2094.49 1098.15 L2096.86 1097.13 L2099.22 1096.1 L2101.59 1095.08 L2103.96 1094.07 L2106.32 1093.05 L2108.69 1092.04 L2111.06 1091.02 L2113.42 1090.01 L2115.79 1089.01 L2118.15 1088 L2120.52 1087 L2122.89 1086 L2125.25 1085 L2127.62 1084 L2129.98 1083 L2132.35 1082.01 L2134.72 1081.01 L2137.08 1080.02 L2139.45 1079.03 L2141.82 1078.04 L2144.18 1077.05 L2146.55 1076.07 L2148.91 1075.08 L2151.28 1074.1 L2153.65 1073.12 L2156.01 1072.14 L2158.38 1071.16 L2160.75 1070.18 L2163.11 1069.2 L2165.48 1068.22 L2167.84 1067.25 L2170.21 1066.27 L2172.58 1065.3 L2174.94 1064.33 L2177.31 1063.35 L2179.68 1062.38 L2182.04 1061.41 L2184.41 1060.44 L2186.77 1059.47 L2189.14 1058.5 L2191.51 1057.53 L2193.87 1056.56 L2196.24 1055.59 L2198.61 1054.62 L2200.97 1053.66 L2203.34 1052.69 L2205.7 1051.72 L2208.07 1050.75 L2210.44 1049.78 L2212.8 1048.82 L2215.17 1047.85 L2217.54 1046.88 L2219.9 1045.91 L2222.27 1044.94 L2224.63 1043.98 L2227 1043.01" fill="none" stroke="#020e80" stroke-width="9" stroke-linejoin="round"/>
<path d="M1519.5 1608 L1521.87 1605.05 L1524.23 1602.13 L1526.6 1599.25 L1528.96 1596.39 L1531.33 1593.57 L1533.7 1590.77 L1536.06 1588.01 L1538.43 1585.26 L1540.8 1582.55 L1543.16 1579.85 L1545.53 1577.19 L1547.89 1574.54 L1550.26 1571.91 L1552.63 1569.31 L1554.99 1566.72 L1557.36 1564.15 L1559.73 1561.6 L1562.09 1559.06 L1564.46 1556.53 L1566.82 1554.03 L1569.19 1551.53 L1571.56 1549.04 L1573.92 1546.57 L1576.29 1544.1 L1578.66 1541.64 L1581.02 1539.19 L1583.39 1536.75 L1585.75 1534.31 L1588.12 1531.87 L1590.49 1529.44 L1592.85 1527.01 L1595.22 1524.58 L1597.59 1522.16 L1599.95 1519.74 L1602.32 1517.32 L1604.68 1514.91 L1607.05 1512.5 L1609.42 1510.1 L1611.78 1507.7 L1614.15 1505.3 L1616.52 1502.91 L1618.88 1500.52 L1621.25 1498.13 L1623.61 1495.75 L1625.98 1493.38 L1628.35 1491.01 L1630.71 1488.64 L1633.08 1486.28 L1635.44 1483.92 L1637.81 1481.56 L1640.18 1479.22 L1642.54 1476.87 L1644.91 1474.53 L1647.28 1472.2 L1649.64 1469.87 L1652.01 1467.55 L1654.37 1465.23 L1656.74 1462.91 L1659.11 1460.6 L1661.47 1458.3 L1663.84 1456 L1666.21 1453.71 L1668.57 1451.42 L1670.94 1449.14 L1673.3 1446.87 L1675.67 1444.6 L1678.04 1442.33 L1680.4 1440.08 L1682.77 1437.82 L1685.14 1435.58 L1687.5 1433.34 L1689.87 1431.1 L1692.23 1428.88 L1694.6 1426.66 L1696.97 1424.44 L1699.33 1422.23 L1701.7 1420.03 L1704.07 1417.84 L1706.43 1415.65 L1708.8 1413.46 L1711.16 1411.29 L1713.53 1409.12 L1715.9 1406.96 L1718.26 1404.81 L1720.63 1402.66 L1722.99 1400.52 L1725.36 1398.38 L1727.73 1396.26 L1730.09 1394.14 L1732.46 1392.03 L1734.83 1389.93 L1737.19 1387.83 L1739.56 1385.74 L1741.92 1383.66 L1744.29 1381.59 L1746.66 1379.52 L1749.02 1377.47 L1751.39 1375.42 L1753.76 1373.37 L1756.12 1371.34 L1758.49 1369.32 L1760.85 1367.3 L1763.22 1365.29 L1765.59 1363.29 L1767.95 1361.3 L1770.32 1359.31 L1772.69 1357.33 L1775.05 1355.36 L1777.42 1353.4 L1779.78 1351.45 L1782.15 1349.5 L1784.52 1347.56 L1786.88 1345.63 L1789.25 1343.7 L1791.62 1341.79 L1793.98 1339.88 L1796.35 1337.97 L1798.71 1336.08 L1801.08 1334.19 L1803.45 1332.31 L1805.81 1330.43 L1808.18 1328.56 L1810.55 1326.7 L1812.91 1324.84 L1815.28 1323 L1817.64 1321.15 L1820.01 1319.32 L1822.38 1317.49 L1824.74 1315.67 L1827.11 1313.85 L1829.47 1312.04 L1831.84 1310.24 L1834.21 1308.44 L1836.57 1306.65 L1838.94 1304.86 L1841.31 1303.08 L1843.67 1301.3 L1846.04 1299.54 L1848.4 1297.77 L1850.77 1296.02 L1853.14 1294.26 L1855.5 1292.52 L1857.87 1290.78 L1860.24 1289.04 L1862.6 1287.31 L1864.97 1285.58 L1867.33 1283.86 L1869.7 1282.15 L1872.07 1280.44 L1874.43 1278.73 L1876.8 1277.03 L1879.17 1275.34 L1881.53 1273.65 L1883.9 1271.96 L1886.26 1270.28 L1888.63 1268.61 L1891 1266.93 L1893.36 1265.27 L1895.73 1263.6 L1898.1 1261.94 L1900.46 1260.29 L1902.83 1258.64 L1905.19 1256.99 L1907.56 1255.35 L1909.93 1253.71 L1912.29 1252.08 L1914.66 1250.44 L1917.03 1248.82 L1919.39 1247.19 L1921.76 1245.57 L1924.12 1243.96 L1926.49 1242.35 L1928.86 1240.74 L1931.22 1239.13 L1933.59 1237.53 L1935.95 1235.93 L1938.32 1234.33 L1940.69 1232.74 L1943.05 1231.15 L1945.42 1229.56 L1947.79 1227.98 L1950.15 1226.4 L1952.52 1224.82 L1954.88 1223.24 L1957.25 1221.67 L1959.62 1220.1 L1961.98 1218.53 L1964.35 1216.97 L1966.72 1215.4 L1969.08 1213.84 L1971.45 1212.28 L1973.81 1210.73 L1976.18 1209.17 L1978.55 1207.62 L1980.91 1206.07 L1983.28 1204.52 L1985.65 1202.97 L1988.01 1201.43 L1990.38 1199.89 L1992.74 1198.35 L1995.11 1196.81 L1997.48 1195.27 L1999.84 1193.73 L2002.21 1192.2 L2004.58 1190.66 L2006.94 1189.13 L2009.31 1187.6 L2011.67 1186.07 L2014.04 1184.54 L2016.41 1183.01 L2018.77 1181.48 L2021.14 1179.96 L2023.51 1178.43 L2025.87 1176.9 L2028.24 1175.38 L2030.6 1173.86 L2032.97 1172.33 L2035.34 1170.81 L2037.7 1169.29 L2040.07 1167.77 L2042.43 1166.25 L2044.8 1164.72 L2047.17 1163.2 L2049.53 1161.68 L2051.9 1160.16 L2054.27 1158.64 L2056.63 1157.12 L2059 1155.6 L2061.36 1154.07 L2063.73 1152.55 L2066.1 1151.03 L2068.46 1149.51 L2070.83 1147.98 L2073.2 1146.46 L2075.56 1144.93 L2077.93 1143.41 L2080.29 1141.88 L2082.66 1140.36 L2085.03 1138.83 L2087.39 1137.3 L2089.76 1135.77 L2092.13 1134.24 L2094.49 1132.71 L2096.86 1131.17 L2099.22 1129.64 L2101.59 1128.1 L2103.96 1126.56 L2106.32 1125.02 L2108.69 1123.48 L2111.06 1121.94 L2113.42 1120.4 L2115.79 1118.85 L2118.15 1117.3 L2120.52 1115.75 L2122.89 1114.2 L2125.25 1112.65 L2127.62 1111.09 L2129.98 1109.54 L2132.35 1107.98 L2134.72 1106.41 L2137.08 1104.85 L2139.45 1103.28 L2141.82 1101.71 L2144.18 1100.14 L2146.55 1098.57 L2148.91 1096.99 L2151.28 1095.41 L2153.65 1093.83 L2156.01 1092.24 L2158.38 1090.65 L2160.75 1089.06 L2163.11 1087.46 L2165.48 1085.87 L2167.84 1084.26 L2170.21 1082.66 L2172.58 1081.05 L2174.94 1079.44 L2177.31 1077.83 L2179.68 1076.21 L2182.04 1074.59 L2184.41 1072.96 L2186.77 1071.33 L2189.14 1069.7 L2191.51 1068.06 L2193.87 1066.42 L2196.24 1064.78 L2198.61 1063.13 L2200.97 1061.47 L2203.34 1059.82 L2205.7 1058.15 L2208.07 1056.49 L2210.44 1054.82 L2212.8 1053.14 L2215.17 1051.46 L2217.54 1049.78 L2219.9 1048.09 L2222.27 1046.4 L2224.63 1044.7 L2227 1043" fill="none" stroke="#020e80" stroke-width="9" stroke-linejoin="round"/>
<path d="M1518 1040.3H2229" stroke="#020e80" stroke-width="9.4" stroke-linecap="round" stroke-dasharray="35.3 49.5"/>
<path d="M1517.5 1485.59H1531M1517.5 1362.68H1531M1517.5 1239.77H1531M1517.5 1116.86H1531M1517.5 993.95H1531M1517.5 1547.05H1525M1517.5 1424.14H1525M1517.5 1301.23H1525M1517.5 1178.32H1525M1517.5 1055.41H1525" stroke="#000" stroke-width="9" fill="none"/>
<path d="M1646.73 1608.5V1595M1775.96 1608.5V1595M1905.19 1608.5V1595M2034.42 1608.5V1595M2163.65 1608.5V1595M2292.88 1608.5V1595M1582.12 1608.5V1602M1711.35 1608.5V1602M1840.58 1608.5V1602M1969.81 1608.5V1602M2099.04 1608.5V1602M2228.27 1608.5V1602" stroke="#000" stroke-width="9" fill="none"/>
<text x="19.9" y="122" font-size="67">(a)</text>
<text x="1227" y="121.7" font-size="67">(b)</text>
<text x="19.9" y="1003.5" font-size="67">(c)</text>
<text x="1227" y="1002.8" font-size="67">(d)</text>
<text x="298" y="158.91" font-size="76.5" text-anchor="end">80</text>
<text x="298" y="281.45" font-size="76.5" text-anchor="end">40</text>
<text x="298" y="404" font-size="76.5" text-anchor="end">0</text>
<text x="298" y="526.55" font-size="76.5" text-anchor="end">-40</text>
<text x="298" y="649.09" font-size="76.5" text-anchor="end">-80</text>
<text x="311.5" y="792" font-size="76.5" text-anchor="middle">-8</text>
<text x="416.12" y="792" font-size="76.5" text-anchor="middle">-6</text>
<text x="520.75" y="792" font-size="76.5" text-anchor="middle">-4</text>
<text x="625.38" y="792" font-size="76.5" text-anchor="middle">-2</text>
<text x="730" y="792" font-size="76.5" text-anchor="middle">0</text>
<text x="834.62" y="792" font-size="76.5" text-anchor="middle">2</text>
<text x="939.25" y="792" font-size="76.5" text-anchor="middle">4</text>
<text x="1043.88" y="792" font-size="76.5" text-anchor="middle">6</text>
<text x="1148.5" y="792" font-size="76.5" text-anchor="middle">8</text>
<text x="730" y="857" font-size="76.5" text-anchor="middle">E(MV/cm)</text>
<text transform="translate(186 727.3) rotate(-90)" font-size="76.2">Polarization(μC/cm<tspan font-size="53" dy="-31">2</tspan><tspan dy="31">)</tspan></text>
<text x="301" y="1050.86" font-size="77.2" text-anchor="end">80</text>
<text x="301" y="1174.68" font-size="77.2" text-anchor="end">40</text>
<text x="301" y="1298.5" font-size="77.2" text-anchor="end">0</text>
<text x="301" y="1422.32" font-size="77.2" text-anchor="end">-40</text>
<text x="301" y="1546.14" font-size="77.2" text-anchor="end">-80</text>
<text x="314.5" y="1690" font-size="77.2" text-anchor="middle">-8</text>
<text x="420.38" y="1690" font-size="77.2" text-anchor="middle">-6</text>
<text x="526.25" y="1690" font-size="77.2" text-anchor="middle">-4</text>
<text x="632.12" y="1690" font-size="77.2" text-anchor="middle">-2</text>
<text x="738" y="1690" font-size="77.2" text-anchor="middle">0</text>
<text x="843.88" y="1690" font-size="77.2" text-anchor="middle">2</text>
<text x="949.75" y="1690" font-size="77.2" text-anchor="middle">4</text>
<text x="1055.62" y="1690" font-size="77.2" text-anchor="middle">6</text>
<text x="1161.5" y="1690" font-size="77.2" text-anchor="middle">8</text>
<text x="737.5" y="1756" font-size="77.2" text-anchor="middle">E(MV/cm)</text>
<text transform="translate(188 1623) rotate(-90)" font-size="77">Polarization(μC/cm<tspan font-size="53" dy="-31">2</tspan><tspan dy="31">)</tspan></text>
<text x="1503.8" y="746" font-size="77" text-anchor="end">0</text>
<text x="1503.8" y="622.73" font-size="77" text-anchor="end">10</text>
<text x="1503.8" y="499.45" font-size="77" text-anchor="end">20</text>
<text x="1503.8" y="376.18" font-size="77" text-anchor="end">30</text>
<text x="1503.8" y="252.91" font-size="77" text-anchor="end">40</text>
<text x="1503.8" y="129.64" font-size="77" text-anchor="end">50</text>
<text x="1517.5" y="797" font-size="77" text-anchor="middle">0</text>
<text x="1647.04" y="797" font-size="77" text-anchor="middle">1</text>
<text x="1776.58" y="797" font-size="77" text-anchor="middle">2</text>
<text x="1906.12" y="797" font-size="77" text-anchor="middle">3</text>
<text x="2035.65" y="797" font-size="77" text-anchor="middle">4</text>
<text x="2165.19" y="797" font-size="77" text-anchor="middle">5</text>
<text x="2294.73" y="797" font-size="77" text-anchor="middle">6</text>
<text x="1939" y="859" font-size="77" text-anchor="middle">E(MV/cm)</text>
<text transform="translate(1402 731.4) rotate(-90)" font-size="76.5">Polarization(μC/cm<tspan font-size="53" dy="-31">2</tspan><tspan dy="31">)</tspan></text>
<text x="1503" y="1632.5" font-size="77" text-anchor="end">0</text>
<text x="1503" y="1509.59" font-size="77" text-anchor="end">10</text>
<text x="1503" y="1386.68" font-size="77" text-anchor="end">20</text>
<text x="1503" y="1263.77" font-size="77" text-anchor="end">30</text>
<text x="1503" y="1140.86" font-size="77" text-anchor="end">40</text>
<text x="1503" y="1017.95" font-size="77" text-anchor="end">50</text>
<text x="1517.5" y="1683" font-size="77" text-anchor="middle">0</text>
<text x="1646.73" y="1683" font-size="77" text-anchor="middle">1</text>
<text x="1775.96" y="1683" font-size="77" text-anchor="middle">2</text>
<text x="1905.19" y="1683" font-size="77" text-anchor="middle">3</text>
<text x="2034.42" y="1683" font-size="77" text-anchor="middle">4</text>
<text x="2163.65" y="1683" font-size="77" text-anchor="middle">5</text>
<text x="2292.88" y="1683" font-size="77" text-anchor="middle">6</text>
<text x="1937" y="1743.5" font-size="77" text-anchor="middle">E(MV/cm)</text>
<text transform="translate(1401.6 1618) rotate(-90)" font-size="76.2">Polarization(μC/cm<tspan font-size="53" dy="-31">2</tspan><tspan dy="31">)</tspan></text>
<text x="340.5" y="119.5" font-size="57.8"><tspan fill="#0018c0">350°C</tspan>LNO/BSZT</text>
<text x="348.4" y="1013" font-size="58"><tspan fill="#0018c0">450°C</tspan>LNO/BSZT</text>
<text x="1843.7" y="595" font-size="57.1"><tspan fill="#0018c0">350°C</tspan>LNO/BSZT</text>
<text x="1883" y="1476" font-size="56.7"><tspan fill="#0018c0">450°C</tspan>LNO/BSZT</text>
<text x="632.1" y="570" font-size="57.3">E<tspan font-size="38.6" dy="15">max</tspan><tspan dy="-15"> = 6.1 MV/cm</tspan></text>
<text x="631.4" y="662" font-size="57.3">P<tspan font-size="38.6" dy="14.5">max</tspan><tspan dy="-14.5"> = 43.4 μC/cm</tspan><tspan font-size="38.6" dy="-24">2</tspan></text>
<text x="638.6" y="1465" font-size="58.2">E<tspan font-size="39.2" dy="15">max</tspan><tspan dy="-15"> = 5.5 MV/cm</tspan></text>
<text x="637.4" y="1558" font-size="58.2">P<tspan font-size="39.2" dy="14.5">max</tspan><tspan dy="-14.5"> = 46.2 μC/cm</tspan><tspan font-size="39.2" dy="-24">2</tspan></text>
<text x="2053.1" y="131" font-size="57.3">P<tspan font-size="39" font-style="italic" dy="15.6">max</tspan><tspan dy="-15.6"> ~43.4</tspan></text>
<text x="2049" y="1003.5" font-size="57.3">P<tspan font-size="39" font-style="italic" dy="15.6">max</tspan><tspan dy="-15.6"> ~ 46.2</tspan></text>
<text x="1567.6" y="274.5" font-size="57.3">W<tspan font-size="39" font-style="italic" dy="15">rec </tspan><tspan dy="-15">~ 103.8 J/cm</tspan><tspan font-size="39" dy="-24">3</tspan></text>
<text x="1567" y="1131" font-size="57.3">W<tspan font-size="39" font-style="italic" dy="15">rec </tspan><tspan dy="-15">~ 87.1 J/cm</tspan><tspan font-size="39" dy="-24">3</tspan></text>
<text x="1577" y="354" font-size="57.3"><tspan font-style="italic">η</tspan> = 85.2 %</text>
<text x="1575.8" y="1223.5" font-size="57.3"><tspan font-style="italic">η</tspan> = 75.9 %</text>
<text x="1772.7" y="678" font-size="57.3">mean <tspan font-style="italic">E</tspan><tspan font-size="39" font-weight="normal" dy="15" dx="4">b </tspan><tspan dy="-15">~ 6.1 MV/cm</tspan></text>
<text x="1794.2" y="1558" font-size="57.3">mean <tspan font-style="italic">E</tspan><tspan font-size="39" font-weight="normal" dy="15" dx="4">b </tspan><tspan dy="-15">~ 5.5 MV/cm</tspan></text>
</svg></body></html>
